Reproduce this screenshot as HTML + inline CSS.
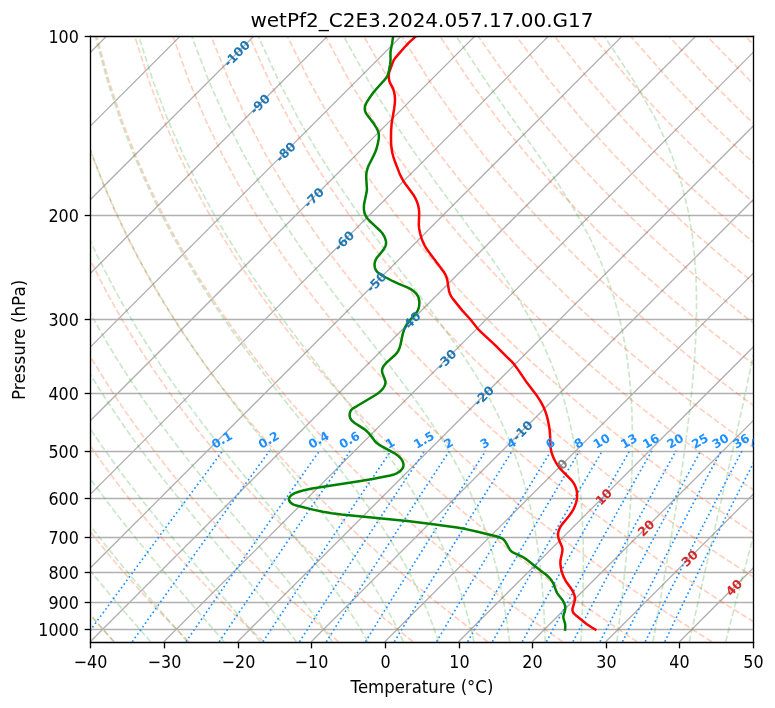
<!DOCTYPE html>
<html><head><meta charset="utf-8"><title>Skew-T</title><style>html,body{margin:0;padding:0;background:#fff;overflow:hidden}svg{display:block;will-change:transform;}</style></head><body>
<svg width="775" height="708" viewBox="0 0 465 424.8" version="1.1">
 
 <defs>
  <style type="text/css">*{stroke-linejoin: round; stroke-linecap: butt}</style>
 </defs>
 <g id="figure_1">
  <g id="patch_1">
   <path d="M 0 424.8 
L 465 424.8 
L 465 0 
L 0 0 
z
" style="fill: #ffffff"/>
  </g>
  <g id="axes_1">
   <g id="patch_2">
    <path d="M 54.3 385.5 
L 452.1 385.5 
L 452.1 21.9 
L 54.3 21.9 
z
" style="fill: #ffffff"/>
   </g>
   <g id="LineCollection_1">
    <path d="M 54.3 129.3 
L 452.1 129.3 
" clip-path="url(#p07b7da3071)" style="fill: none; stroke: #b0b0b0; stroke-width: 0.8"/>
    <path d="M 54.3 191.7 
L 452.1 191.7 
" clip-path="url(#p07b7da3071)" style="fill: none; stroke: #b0b0b0; stroke-width: 0.8"/>
    <path d="M 54.3 236.1 
L 452.1 236.1 
" clip-path="url(#p07b7da3071)" style="fill: none; stroke: #b0b0b0; stroke-width: 0.8"/>
    <path d="M 54.3 270.9 
L 452.1 270.9 
" clip-path="url(#p07b7da3071)" style="fill: none; stroke: #b0b0b0; stroke-width: 0.8"/>
    <path d="M 54.3 299.1 
L 452.1 299.1 
" clip-path="url(#p07b7da3071)" style="fill: none; stroke: #b0b0b0; stroke-width: 0.8"/>
    <path d="M 54.3 322.5 
L 452.1 322.5 
" clip-path="url(#p07b7da3071)" style="fill: none; stroke: #b0b0b0; stroke-width: 0.8"/>
    <path d="M 54.3 343.5 
L 452.1 343.5 
" clip-path="url(#p07b7da3071)" style="fill: none; stroke: #b0b0b0; stroke-width: 0.8"/>
    <path d="M 54.3 361.5 
L 452.1 361.5 
" clip-path="url(#p07b7da3071)" style="fill: none; stroke: #b0b0b0; stroke-width: 0.8"/>
    <path d="M 54.3 377.7 
L 452.1 377.7 
" clip-path="url(#p07b7da3071)" style="fill: none; stroke: #b0b0b0; stroke-width: 0.8"/>
   </g>
   <g id="LineCollection_2">
    <path clip-path="url(#p07b7da3071)" style="fill: none; stroke: #b0b0b0; stroke-width: 0.8"/>
    <path clip-path="url(#p07b7da3071)" style="fill: none; stroke: #b0b0b0; stroke-width: 0.8"/>
    <path clip-path="url(#p07b7da3071)" style="fill: none; stroke: #b0b0b0; stroke-width: 0.8"/>
    <path clip-path="url(#p07b7da3071)" style="fill: none; stroke: #b0b0b0; stroke-width: 0.8"/>
    <path clip-path="url(#p07b7da3071)" style="fill: none; stroke: #b0b0b0; stroke-width: 0.8"/>
    <path clip-path="url(#p07b7da3071)" style="fill: none; stroke: #b0b0b0; stroke-width: 0.8"/>
    <path clip-path="url(#p07b7da3071)" style="fill: none; stroke: #b0b0b0; stroke-width: 0.8"/>
    <path d="M -1 42.44 
L 19.63 21.80 
" clip-path="url(#p07b7da3071)" style="fill: none; stroke: #b0b0b0; stroke-width: 0.8"/>
    <path d="M -1 86.63 
L 63.83 21.80 
" clip-path="url(#p07b7da3071)" style="fill: none; stroke: #b0b0b0; stroke-width: 0.8"/>
    <path d="M -1 130.83 
L 108.02 21.80 
" clip-path="url(#p07b7da3071)" style="fill: none; stroke: #b0b0b0; stroke-width: 0.8"/>
    <path d="M -1 175.02 
L 152.21 21.80 
" clip-path="url(#p07b7da3071)" style="fill: none; stroke: #b0b0b0; stroke-width: 0.8"/>
    <path d="M -1 219.21 
L 196.41 21.80 
" clip-path="url(#p07b7da3071)" style="fill: none; stroke: #b0b0b0; stroke-width: 0.8"/>
    <path d="M -1 263.41 
L 240.60 21.80 
" clip-path="url(#p07b7da3071)" style="fill: none; stroke: #b0b0b0; stroke-width: 0.8"/>
    <path d="M -1 307.60 
L 284.79 21.80 
" clip-path="url(#p07b7da3071)" style="fill: none; stroke: #b0b0b0; stroke-width: 0.8"/>
    <path d="M -1 351.79 
L 328.99 21.80 
" clip-path="url(#p07b7da3071)" style="fill: none; stroke: #b0b0b0; stroke-width: 0.8"/>
    <path d="M 9.95 385.04 
L 373.18 21.80 
" clip-path="url(#p07b7da3071)" style="fill: none; stroke: #b0b0b0; stroke-width: 0.8"/>
    <path d="M 54.14 385.04 
L 417.37 21.80 
" clip-path="url(#p07b7da3071)" style="fill: none; stroke: #b0b0b0; stroke-width: 0.8"/>
    <path d="M 98.33 385.04 
L 461.57 21.80 
" clip-path="url(#p07b7da3071)" style="fill: none; stroke: #b0b0b0; stroke-width: 0.8"/>
    <path d="M 142.53 385.04 
L 466 61.57 
" clip-path="url(#p07b7da3071)" style="fill: none; stroke: #b0b0b0; stroke-width: 0.8"/>
    <path d="M 186.72 385.04 
L 466 105.76 
" clip-path="url(#p07b7da3071)" style="fill: none; stroke: #b0b0b0; stroke-width: 0.8"/>
    <path d="M 230.91 385.04 
L 466 149.95 
" clip-path="url(#p07b7da3071)" style="fill: none; stroke: #b0b0b0; stroke-width: 0.8"/>
    <path d="M 275.11 385.04 
L 466 194.15 
" clip-path="url(#p07b7da3071)" style="fill: none; stroke: #b0b0b0; stroke-width: 0.8"/>
    <path d="M 319.30 385.04 
L 466 238.34 
" clip-path="url(#p07b7da3071)" style="fill: none; stroke: #b0b0b0; stroke-width: 0.8"/>
    <path d="M 363.49 385.04 
L 466 282.53 
" clip-path="url(#p07b7da3071)" style="fill: none; stroke: #b0b0b0; stroke-width: 0.8"/>
    <path d="M 407.69 385.04 
L 466 326.73 
" clip-path="url(#p07b7da3071)" style="fill: none; stroke: #b0b0b0; stroke-width: 0.8"/>
    <path d="M 451.88 385.04 
L 466 370.92 
" clip-path="url(#p07b7da3071)" style="fill: none; stroke: #b0b0b0; stroke-width: 0.8"/>
   </g>
   <g id="LineCollection_3">
    <path d="M 68.60 385.04 
L 65.93 382.16 
L 63.24 379.22 
L 60.53 376.23 
L 57.80 373.18 
L 55.05 370.07 
L 52.27 366.90 
L 49.47 363.66 
L 46.65 360.34 
L 43.81 356.96 
L 40.94 353.50 
L 38.05 349.96 
L 35.14 346.34 
L 32.19 342.63 
L 29.23 338.83 
L 26.24 334.94 
L 23.22 330.94 
L 20.18 326.84 
L 17.11 322.62 
L 14.01 318.29 
L 10.89 313.83 
L 7.73 309.24 
L 4.55 304.51 
L 1.34 299.63 
L -1 295.98 
" clip-path="url(#p07b7da3071)" style="fill: none; stroke-dasharray: 3.7,1.6; stroke-dashoffset: 0; stroke: #ff4500; stroke-opacity: 0.25"/>
    <path d="M 113.42 385.04 
L 110.51 382.16 
L 107.58 379.22 
L 104.62 376.23 
L 101.64 373.18 
L 98.64 370.07 
L 95.61 366.90 
L 92.55 363.66 
L 89.47 360.34 
L 86.35 356.96 
L 83.22 353.50 
L 80.05 349.96 
L 76.85 346.34 
L 73.63 342.63 
L 70.37 338.83 
L 67.09 334.94 
L 63.77 330.94 
L 60.42 326.84 
L 57.04 322.62 
L 53.62 318.29 
L 50.17 313.83 
L 46.69 309.24 
L 43.17 304.51 
L 39.61 299.63 
L 36.02 294.60 
L 32.39 289.39 
L 28.72 284.00 
L 25.02 278.41 
L 21.27 272.61 
L 17.49 266.59 
L 13.67 260.33 
L 9.82 253.80 
L 5.92 246.98 
L 1.99 239.84 
L -1 234.19 
" clip-path="url(#p07b7da3071)" style="fill: none; stroke-dasharray: 3.7,1.6; stroke-dashoffset: 0; stroke: #ff4500; stroke-opacity: 0.25"/>
    <path d="M 158.23 385.04 
L 155.08 382.16 
L 151.91 379.22 
L 148.71 376.23 
L 145.48 373.18 
L 142.23 370.07 
L 138.94 366.90 
L 135.63 363.66 
L 132.28 360.34 
L 128.90 356.96 
L 125.49 353.50 
L 122.05 349.96 
L 118.57 346.34 
L 115.06 342.63 
L 111.52 338.83 
L 107.93 334.94 
L 104.32 330.94 
L 100.66 326.84 
L 96.96 322.62 
L 93.23 318.29 
L 89.45 313.83 
L 85.64 309.24 
L 81.78 304.51 
L 77.88 299.63 
L 73.93 294.60 
L 69.93 289.39 
L 65.90 284.00 
L 61.81 278.41 
L 57.67 272.61 
L 53.49 266.59 
L 49.26 260.33 
L 44.97 253.80 
L 40.64 246.98 
L 36.25 239.84 
L 31.82 232.36 
L 27.33 224.50 
L 22.80 216.22 
L 18.22 207.47 
L 13.60 198.20 
L 8.95 188.33 
L 4.26 177.78 
L -0.43 166.47 
L -1 164.99 
" clip-path="url(#p07b7da3071)" style="fill: none; stroke-dasharray: 3.7,1.6; stroke-dashoffset: 0; stroke: #ff4500; stroke-opacity: 0.25"/>
    <path d="M 203.04 385.04 
L 199.66 382.16 
L 196.25 379.22 
L 192.80 376.23 
L 189.33 373.18 
L 185.82 370.07 
L 182.28 366.90 
L 178.70 363.66 
L 175.09 360.34 
L 171.45 356.96 
L 167.77 353.50 
L 164.05 349.96 
L 160.29 346.34 
L 156.50 342.63 
L 152.66 338.83 
L 148.78 334.94 
L 144.86 330.94 
L 140.90 326.84 
L 136.89 322.62 
L 132.84 318.29 
L 128.74 313.83 
L 124.59 309.24 
L 120.39 304.51 
L 116.14 299.63 
L 111.84 294.60 
L 107.48 289.39 
L 103.07 284.00 
L 98.60 278.41 
L 94.07 272.61 
L 89.49 266.59 
L 84.84 260.33 
L 80.13 253.80 
L 75.35 246.98 
L 70.51 239.84 
L 65.60 232.36 
L 60.63 224.50 
L 55.59 216.22 
L 50.49 207.47 
L 45.32 198.20 
L 40.09 188.33 
L 34.81 177.78 
L 29.48 166.47 
L 24.11 154.26 
L 18.72 141.00 
L 13.35 126.49 
L 8.03 110.48 
L 2.83 92.62 
L -1 77.06 
" clip-path="url(#p07b7da3071)" style="fill: none; stroke-dasharray: 3.7,1.6; stroke-dashoffset: 0; stroke: #ff4500; stroke-opacity: 0.25"/>
    <path d="M 247.86 385.04 
L 244.24 382.16 
L 240.58 379.22 
L 236.89 376.23 
L 233.17 373.18 
L 229.41 370.07 
L 225.61 366.90 
L 221.78 363.66 
L 217.91 360.34 
L 213.99 356.96 
L 210.04 353.50 
L 206.05 349.96 
L 202.01 346.34 
L 197.93 342.63 
L 193.80 338.83 
L 189.63 334.94 
L 185.41 330.94 
L 181.14 326.84 
L 176.82 322.62 
L 172.45 318.29 
L 168.02 313.83 
L 163.54 309.24 
L 159.00 304.51 
L 154.41 299.63 
L 149.75 294.60 
L 145.03 289.39 
L 140.25 284.00 
L 135.39 278.41 
L 130.47 272.61 
L 125.48 266.59 
L 120.42 260.33 
L 115.28 253.80 
L 110.07 246.98 
L 104.77 239.84 
L 99.39 232.36 
L 93.93 224.50 
L 88.39 216.22 
L 82.76 207.47 
L 77.04 198.20 
L 71.24 188.33 
L 65.35 177.78 
L 59.39 166.47 
L 53.35 154.26 
L 47.26 141.00 
L 41.13 126.49 
L 35.00 110.48 
L 28.92 92.62 
L 22.99 72.42 
L 17.34 49.17 
L 12.24 21.80 
" clip-path="url(#p07b7da3071)" style="fill: none; stroke-dasharray: 3.7,1.6; stroke-dashoffset: 0; stroke: #ff4500; stroke-opacity: 0.25"/>
    <path d="M 292.67 385.04 
L 288.81 382.16 
L 284.92 379.22 
L 280.98 376.23 
L 277.01 373.18 
L 273.00 370.07 
L 268.95 366.90 
L 264.85 363.66 
L 260.72 360.34 
L 256.54 356.96 
L 252.32 353.50 
L 248.05 349.96 
L 243.73 346.34 
L 239.36 342.63 
L 234.95 338.83 
L 230.48 334.94 
L 225.96 330.94 
L 221.38 326.84 
L 216.75 322.62 
L 212.06 318.29 
L 207.31 313.83 
L 202.49 309.24 
L 197.62 304.51 
L 192.67 299.63 
L 187.66 294.60 
L 182.58 289.39 
L 177.42 284.00 
L 172.19 278.41 
L 166.88 272.61 
L 161.48 266.59 
L 156.00 260.33 
L 150.44 253.80 
L 144.78 246.98 
L 139.03 239.84 
L 133.18 232.36 
L 127.24 224.50 
L 121.18 216.22 
L 115.03 207.47 
L 108.76 198.20 
L 102.38 188.33 
L 95.90 177.78 
L 89.30 166.47 
L 82.60 154.26 
L 75.80 141.00 
L 68.91 126.49 
L 61.97 110.48 
L 55.02 92.62 
L 48.12 72.42 
L 41.42 49.17 
L 35.13 21.80 
" clip-path="url(#p07b7da3071)" style="fill: none; stroke-dasharray: 3.7,1.6; stroke-dashoffset: 0; stroke: #ff4500; stroke-opacity: 0.25"/>
    <path d="M 337.49 385.04 
L 333.39 382.16 
L 329.25 379.22 
L 325.07 376.23 
L 320.85 373.18 
L 316.59 370.07 
L 312.28 366.90 
L 307.93 363.66 
L 303.53 360.34 
L 299.09 356.96 
L 294.59 353.50 
L 290.04 349.96 
L 285.45 346.34 
L 280.80 342.63 
L 276.09 338.83 
L 271.33 334.94 
L 266.50 330.94 
L 261.62 326.84 
L 256.68 322.62 
L 251.67 318.29 
L 246.59 313.83 
L 241.45 309.24 
L 236.23 304.51 
L 230.94 299.63 
L 225.57 294.60 
L 220.12 289.39 
L 214.60 284.00 
L 208.98 278.41 
L 203.28 272.61 
L 197.48 266.59 
L 191.59 260.33 
L 185.59 253.80 
L 179.50 246.98 
L 173.29 239.84 
L 166.97 232.36 
L 160.54 224.50 
L 153.98 216.22 
L 147.30 207.47 
L 140.48 198.20 
L 133.53 188.33 
L 126.44 177.78 
L 119.21 166.47 
L 111.84 154.26 
L 104.33 141.00 
L 96.69 126.49 
L 88.94 110.48 
L 81.11 92.62 
L 73.26 72.42 
L 65.50 49.17 
L 58.02 21.80 
" clip-path="url(#p07b7da3071)" style="fill: none; stroke-dasharray: 3.7,1.6; stroke-dashoffset: 0; stroke: #ff4500; stroke-opacity: 0.25"/>
    <path d="M 382.30 385.04 
L 377.96 382.16 
L 373.58 379.22 
L 369.16 376.23 
L 364.69 373.18 
L 360.18 370.07 
L 355.62 366.90 
L 351.01 363.66 
L 346.34 360.34 
L 341.63 356.96 
L 336.87 353.50 
L 332.04 349.96 
L 327.17 346.34 
L 322.23 342.63 
L 317.23 338.83 
L 312.17 334.94 
L 307.05 330.94 
L 301.86 326.84 
L 296.61 322.62 
L 291.28 318.29 
L 285.88 313.83 
L 280.40 309.24 
L 274.84 304.51 
L 269.20 299.63 
L 263.48 294.60 
L 257.67 289.39 
L 251.77 284.00 
L 245.77 278.41 
L 239.68 272.61 
L 233.48 266.59 
L 227.17 260.33 
L 220.75 253.80 
L 214.21 246.98 
L 207.55 239.84 
L 200.76 232.36 
L 193.84 224.50 
L 186.77 216.22 
L 179.56 207.47 
L 172.20 198.20 
L 164.68 188.33 
L 156.99 177.78 
L 149.12 166.47 
L 141.08 154.26 
L 132.87 141.00 
L 124.47 126.49 
L 115.91 110.48 
L 107.20 92.62 
L 98.40 72.42 
L 89.57 49.17 
L 80.91 21.80 
" clip-path="url(#p07b7da3071)" style="fill: none; stroke-dasharray: 3.7,1.6; stroke-dashoffset: 0; stroke: #ff4500; stroke-opacity: 0.25"/>
    <path d="M 427.11 385.04 
L 422.54 382.16 
L 417.92 379.22 
L 413.25 376.23 
L 408.54 373.18 
L 403.77 370.07 
L 398.95 366.90 
L 394.08 363.66 
L 389.16 360.34 
L 384.18 356.96 
L 379.14 353.50 
L 374.04 349.96 
L 368.88 346.34 
L 363.66 342.63 
L 358.38 338.83 
L 353.02 334.94 
L 347.60 330.94 
L 342.10 326.84 
L 336.53 322.62 
L 330.89 318.29 
L 325.16 313.83 
L 319.35 309.24 
L 313.46 304.51 
L 307.47 299.63 
L 301.39 294.60 
L 295.22 289.39 
L 288.95 284.00 
L 282.57 278.41 
L 276.08 272.61 
L 269.47 266.59 
L 262.75 260.33 
L 255.90 253.80 
L 248.93 246.98 
L 241.81 239.84 
L 234.55 232.36 
L 227.14 224.50 
L 219.57 216.22 
L 211.83 207.47 
L 203.92 198.20 
L 195.82 188.33 
L 187.53 177.78 
L 179.04 166.47 
L 170.33 154.26 
L 161.40 141.00 
L 152.25 126.49 
L 142.88 110.48 
L 133.30 92.62 
L 123.53 72.42 
L 113.65 49.17 
L 103.80 21.80 
" clip-path="url(#p07b7da3071)" style="fill: none; stroke-dasharray: 3.7,1.6; stroke-dashoffset: 0; stroke: #ff4500; stroke-opacity: 0.25"/>
    <path d="M 466 381.48 
L 462.25 379.22 
L 457.34 376.23 
L 452.38 373.18 
L 447.36 370.07 
L 442.29 366.90 
L 437.16 363.66 
L 431.97 360.34 
L 426.72 356.96 
L 421.41 353.50 
L 416.04 349.96 
L 410.60 346.34 
L 405.10 342.63 
L 399.52 338.83 
L 393.87 334.94 
L 388.15 330.94 
L 382.34 326.84 
L 376.46 322.62 
L 370.50 318.29 
L 364.44 313.83 
L 358.30 309.24 
L 352.07 304.51 
L 345.74 299.63 
L 339.30 294.60 
L 332.77 289.39 
L 326.12 284.00 
L 319.36 278.41 
L 312.48 272.61 
L 305.47 266.59 
L 298.33 260.33 
L 291.06 253.80 
L 283.64 246.98 
L 276.07 239.84 
L 268.34 232.36 
L 260.44 224.50 
L 252.37 216.22 
L 244.10 207.47 
L 235.64 198.20 
L 226.97 188.33 
L 218.08 177.78 
L 208.95 166.47 
L 199.57 154.26 
L 189.94 141.00 
L 180.03 126.49 
L 169.85 110.48 
L 159.39 92.62 
L 148.67 72.42 
L 137.73 49.17 
L 126.69 21.80 
" clip-path="url(#p07b7da3071)" style="fill: none; stroke-dasharray: 3.7,1.6; stroke-dashoffset: 0; stroke: #ff4500; stroke-opacity: 0.25"/>
    <path d="M 466 354.93 
L 463.69 353.50 
L 458.04 349.96 
L 452.32 346.34 
L 446.53 342.63 
L 440.66 338.83 
L 434.72 334.94 
L 428.69 330.94 
L 422.58 326.84 
L 416.39 322.62 
L 410.11 318.29 
L 403.73 313.83 
L 397.26 309.24 
L 390.68 304.51 
L 384.00 299.63 
L 377.22 294.60 
L 370.31 289.39 
L 363.30 284.00 
L 356.15 278.41 
L 348.88 272.61 
L 341.47 266.59 
L 333.92 260.33 
L 326.22 253.80 
L 318.36 246.98 
L 310.33 239.84 
L 302.13 232.36 
L 293.74 224.50 
L 285.16 216.22 
L 276.37 207.47 
L 267.36 198.20 
L 258.11 188.33 
L 248.62 177.78 
L 238.86 166.47 
L 228.82 154.26 
L 218.47 141.00 
L 207.81 126.49 
L 196.82 110.48 
L 185.48 92.62 
L 173.81 72.42 
L 161.81 49.17 
L 149.58 21.80 
" clip-path="url(#p07b7da3071)" style="fill: none; stroke-dasharray: 3.7,1.6; stroke-dashoffset: 0; stroke: #ff4500; stroke-opacity: 0.25"/>
    <path d="M 466 328.87 
L 462.83 326.84 
L 456.32 322.62 
L 449.72 318.29 
L 443.01 313.83 
L 436.21 309.24 
L 429.29 304.51 
L 422.27 299.63 
L 415.13 294.60 
L 407.86 289.39 
L 400.47 284.00 
L 392.94 278.41 
L 385.28 272.61 
L 377.47 266.59 
L 369.50 260.33 
L 361.37 253.80 
L 353.07 246.98 
L 344.59 239.84 
L 335.92 232.36 
L 327.04 224.50 
L 317.96 216.22 
L 308.64 207.47 
L 299.08 198.20 
L 289.26 188.33 
L 279.16 177.78 
L 268.77 166.47 
L 258.06 154.26 
L 247.01 141.00 
L 235.59 126.49 
L 223.79 110.48 
L 211.58 92.62 
L 198.94 72.42 
L 185.89 49.17 
L 172.47 21.80 
" clip-path="url(#p07b7da3071)" style="fill: none; stroke-dasharray: 3.7,1.6; stroke-dashoffset: 0; stroke: #ff4500; stroke-opacity: 0.25"/>
    <path d="M 466 303.25 
L 460.53 299.63 
L 453.04 294.60 
L 445.41 289.39 
L 437.64 284.00 
L 429.74 278.41 
L 421.68 272.61 
L 413.46 266.59 
L 405.08 260.33 
L 396.53 253.80 
L 387.79 246.98 
L 378.85 239.84 
L 369.71 232.36 
L 360.35 224.50 
L 350.75 216.22 
L 340.91 207.47 
L 330.80 198.20 
L 320.41 188.33 
L 309.71 177.78 
L 298.68 166.47 
L 287.31 154.26 
L 275.55 141.00 
L 263.38 126.49 
L 250.76 110.48 
L 237.67 92.62 
L 224.08 72.42 
L 209.97 49.17 
L 195.36 21.80 
" clip-path="url(#p07b7da3071)" style="fill: none; stroke-dasharray: 3.7,1.6; stroke-dashoffset: 0; stroke: #ff4500; stroke-opacity: 0.25"/>
    <path d="M 466 278.04 
L 458.08 272.61 
L 449.46 266.59 
L 440.67 260.33 
L 431.68 253.80 
L 422.50 246.98 
L 413.11 239.84 
L 403.50 232.36 
L 393.65 224.50 
L 383.55 216.22 
L 373.18 207.47 
L 362.52 198.20 
L 351.55 188.33 
L 340.25 177.78 
L 328.60 166.47 
L 316.55 154.26 
L 304.08 141.00 
L 291.16 126.49 
L 277.73 110.48 
L 263.76 92.62 
L 249.21 72.42 
L 234.05 49.17 
L 218.25 21.80 
" clip-path="url(#p07b7da3071)" style="fill: none; stroke-dasharray: 3.7,1.6; stroke-dashoffset: 0; stroke: #ff4500; stroke-opacity: 0.25"/>
    <path d="M 466 253.20 
L 457.22 246.98 
L 447.37 239.84 
L 437.29 232.36 
L 426.95 224.50 
L 416.34 216.22 
L 405.45 207.47 
L 394.24 198.20 
L 382.70 188.33 
L 370.80 177.78 
L 358.51 166.47 
L 345.79 154.26 
L 332.62 141.00 
L 318.94 126.49 
L 304.70 110.48 
L 289.86 92.62 
L 274.35 72.42 
L 258.12 49.17 
L 241.14 21.80 
" clip-path="url(#p07b7da3071)" style="fill: none; stroke-dasharray: 3.7,1.6; stroke-dashoffset: 0; stroke: #ff4500; stroke-opacity: 0.25"/>
    <path d="M 466 228.67 
L 460.25 224.50 
L 449.14 216.22 
L 437.71 207.47 
L 425.96 198.20 
L 413.85 188.33 
L 401.34 177.78 
L 388.42 166.47 
L 375.04 154.26 
L 361.15 141.00 
L 346.72 126.49 
L 331.67 110.48 
L 315.95 92.62 
L 299.49 72.42 
L 282.20 49.17 
L 264.03 21.80 
" clip-path="url(#p07b7da3071)" style="fill: none; stroke-dasharray: 3.7,1.6; stroke-dashoffset: 0; stroke: #ff4500; stroke-opacity: 0.25"/>
    <path d="M 466 204.46 
L 457.68 198.20 
L 444.99 188.33 
L 431.89 177.78 
L 418.33 166.47 
L 404.28 154.26 
L 389.69 141.00 
L 374.50 126.49 
L 358.64 110.48 
L 342.04 92.62 
L 324.62 72.42 
L 306.28 49.17 
L 286.92 21.80 
" clip-path="url(#p07b7da3071)" style="fill: none; stroke-dasharray: 3.7,1.6; stroke-dashoffset: 0; stroke: #ff4500; stroke-opacity: 0.25"/>
    <path d="M 466 180.52 
L 462.43 177.78 
L 448.24 166.47 
L 433.53 154.26 
L 418.22 141.00 
L 402.28 126.49 
L 385.61 110.48 
L 368.14 92.62 
L 349.76 72.42 
L 330.36 49.17 
L 309.81 21.80 
" clip-path="url(#p07b7da3071)" style="fill: none; stroke-dasharray: 3.7,1.6; stroke-dashoffset: 0; stroke: #ff4500; stroke-opacity: 0.25"/>
    <path d="M 466 156.82 
L 462.77 154.26 
L 446.76 141.00 
L 430.06 126.49 
L 412.58 110.48 
L 394.23 92.62 
L 374.90 72.42 
L 354.44 49.17 
L 332.70 21.80 
" clip-path="url(#p07b7da3071)" style="fill: none; stroke-dasharray: 3.7,1.6; stroke-dashoffset: 0; stroke: #ff4500; stroke-opacity: 0.25"/>
    <path d="M 466 133.27 
L 457.84 126.49 
L 439.55 110.48 
L 420.32 92.62 
L 400.03 72.42 
L 378.52 49.17 
L 355.59 21.80 
" clip-path="url(#p07b7da3071)" style="fill: none; stroke-dasharray: 3.7,1.6; stroke-dashoffset: 0; stroke: #ff4500; stroke-opacity: 0.25"/>
    <path d="M 466 110.02 
L 446.42 92.62 
L 425.17 72.42 
L 402.60 49.17 
L 378.48 21.80 
" clip-path="url(#p07b7da3071)" style="fill: none; stroke-dasharray: 3.7,1.6; stroke-dashoffset: 0; stroke: #ff4500; stroke-opacity: 0.25"/>
    <path d="M 466 86.69 
L 450.31 72.42 
L 426.67 49.17 
L 401.37 21.80 
" clip-path="url(#p07b7da3071)" style="fill: none; stroke-dasharray: 3.7,1.6; stroke-dashoffset: 0; stroke: #ff4500; stroke-opacity: 0.25"/>
    <path d="M 466 63.53 
L 450.75 49.17 
L 424.26 21.80 
" clip-path="url(#p07b7da3071)" style="fill: none; stroke-dasharray: 3.7,1.6; stroke-dashoffset: 0; stroke: #ff4500; stroke-opacity: 0.25"/>
    <path d="M 466 40.44 
L 447.15 21.80 
" clip-path="url(#p07b7da3071)" style="fill: none; stroke-dasharray: 3.7,1.6; stroke-dashoffset: 0; stroke: #ff4500; stroke-opacity: 0.25"/>
    <path clip-path="url(#p07b7da3071)" style="fill: none; stroke-dasharray: 3.7,1.6; stroke-dashoffset: 0; stroke: #ff4500; stroke-opacity: 0.25"/>
    <path clip-path="url(#p07b7da3071)" style="fill: none; stroke-dasharray: 3.7,1.6; stroke-dashoffset: 0; stroke: #ff4500; stroke-opacity: 0.25"/>
    <path clip-path="url(#p07b7da3071)" style="fill: none; stroke-dasharray: 3.7,1.6; stroke-dashoffset: 0; stroke: #ff4500; stroke-opacity: 0.25"/>
    <path clip-path="url(#p07b7da3071)" style="fill: none; stroke-dasharray: 3.7,1.6; stroke-dashoffset: 0; stroke: #ff4500; stroke-opacity: 0.25"/>
    <path clip-path="url(#p07b7da3071)" style="fill: none; stroke-dasharray: 3.7,1.6; stroke-dashoffset: 0; stroke: #ff4500; stroke-opacity: 0.25"/>
    <path clip-path="url(#p07b7da3071)" style="fill: none; stroke-dasharray: 3.7,1.6; stroke-dashoffset: 0; stroke: #ff4500; stroke-opacity: 0.25"/>
   </g>
   <g id="LineCollection_4">
    <path d="M 68.21 385.04 
L 65.70 382.16 
L 63.16 379.22 
L 60.59 376.23 
L 57.98 373.18 
L 55.35 370.07 
L 52.67 366.90 
L 49.97 363.66 
L 47.24 360.34 
L 44.47 356.96 
L 41.67 353.50 
L 38.84 349.96 
L 35.97 346.34 
L 33.08 342.63 
L 30.15 338.83 
L 27.19 334.94 
L 24.20 330.94 
L 21.18 326.84 
L 18.13 322.62 
L 15.05 318.29 
L 11.93 313.83 
L 8.79 309.24 
L 5.61 304.51 
L 2.40 299.63 
L -0.83 294.60 
L -1 294.33 
" clip-path="url(#p07b7da3071)" style="fill: none; stroke-dasharray: 3.7,1.6; stroke-dashoffset: 0; stroke: #2ca02c; stroke-opacity: 0.25"/>
    <path d="M 90.38 385.04 
L 87.85 382.16 
L 85.28 379.22 
L 82.67 376.23 
L 80.02 373.18 
L 77.32 370.07 
L 74.59 366.90 
L 71.82 363.66 
L 69.00 360.34 
L 66.15 356.96 
L 63.26 353.50 
L 60.33 349.96 
L 57.36 346.34 
L 54.36 342.63 
L 51.31 338.83 
L 48.23 334.94 
L 45.11 330.94 
L 41.96 326.84 
L 38.76 322.62 
L 35.53 318.29 
L 32.26 313.83 
L 28.96 309.24 
L 25.62 304.51 
L 22.24 299.63 
L 18.83 294.60 
L 15.37 289.39 
L 11.89 284.00 
L 8.37 278.41 
L 4.81 272.61 
L 1.21 266.59 
L -1 262.76 
" clip-path="url(#p07b7da3071)" style="fill: none; stroke-dasharray: 3.7,1.6; stroke-dashoffset: 0; stroke: #2ca02c; stroke-opacity: 0.25"/>
    <path d="M 112.46 385.04 
L 109.94 382.16 
L 107.38 379.22 
L 104.76 376.23 
L 102.10 373.18 
L 99.39 370.07 
L 96.62 366.90 
L 93.81 363.66 
L 90.95 360.34 
L 88.04 356.96 
L 85.09 353.50 
L 82.08 349.96 
L 79.03 346.34 
L 75.94 342.63 
L 72.79 338.83 
L 69.60 334.94 
L 66.37 330.94 
L 63.09 326.84 
L 59.76 322.62 
L 56.39 318.29 
L 52.98 313.83 
L 49.52 309.24 
L 46.02 304.51 
L 42.47 299.63 
L 38.89 294.60 
L 35.25 289.39 
L 31.58 284.00 
L 27.86 278.41 
L 24.10 272.61 
L 20.30 266.59 
L 16.46 260.33 
L 12.57 253.80 
L 8.65 246.98 
L 4.69 239.84 
L 0.69 232.36 
L -1 229.06 
" clip-path="url(#p07b7da3071)" style="fill: none; stroke-dasharray: 3.7,1.6; stroke-dashoffset: 0; stroke: #2ca02c; stroke-opacity: 0.25"/>
    <path d="M 134.40 385.04 
L 131.95 382.16 
L 129.45 379.22 
L 126.88 376.23 
L 124.25 373.18 
L 121.56 370.07 
L 118.82 366.90 
L 116.01 363.66 
L 113.14 360.34 
L 110.22 356.96 
L 107.23 353.50 
L 104.19 349.96 
L 101.09 346.34 
L 97.93 342.63 
L 94.71 338.83 
L 91.44 334.94 
L 88.11 330.94 
L 84.73 326.84 
L 81.29 322.62 
L 77.79 318.29 
L 74.25 313.83 
L 70.65 309.24 
L 66.99 304.51 
L 63.29 299.63 
L 59.53 294.60 
L 55.72 289.39 
L 51.86 284.00 
L 47.95 278.41 
L 43.99 272.61 
L 39.97 266.59 
L 35.91 260.33 
L 31.80 253.80 
L 27.64 246.98 
L 23.43 239.84 
L 19.18 232.36 
L 14.88 224.50 
L 10.54 216.22 
L 6.16 207.47 
L 1.75 198.20 
L -1 192.08 
" clip-path="url(#p07b7da3071)" style="fill: none; stroke-dasharray: 3.7,1.6; stroke-dashoffset: 0; stroke: #2ca02c; stroke-opacity: 0.25"/>
    <path d="M 156.20 385.04 
L 153.87 382.16 
L 151.48 379.22 
L 149.02 376.23 
L 146.48 373.18 
L 143.88 370.07 
L 141.21 366.90 
L 138.46 363.66 
L 135.64 360.34 
L 132.75 356.96 
L 129.79 353.50 
L 126.76 349.96 
L 123.66 346.34 
L 120.48 342.63 
L 117.23 338.83 
L 113.91 334.94 
L 110.53 330.94 
L 107.07 326.84 
L 103.55 322.62 
L 99.95 318.29 
L 96.30 313.83 
L 92.57 309.24 
L 88.78 304.51 
L 84.93 299.63 
L 81.01 294.60 
L 77.03 289.39 
L 72.99 284.00 
L 68.89 278.41 
L 64.72 272.61 
L 60.50 266.59 
L 56.21 260.33 
L 51.87 253.80 
L 47.46 246.98 
L 43.00 239.84 
L 38.48 232.36 
L 33.91 224.50 
L 29.28 216.22 
L 24.60 207.47 
L 19.88 198.20 
L 15.11 188.33 
L 10.31 177.78 
L 5.49 166.47 
L 0.66 154.26 
L -1 149.68 
" clip-path="url(#p07b7da3071)" style="fill: none; stroke-dasharray: 3.7,1.6; stroke-dashoffset: 0; stroke: #2ca02c; stroke-opacity: 0.25"/>
    <path d="M 177.84 385.04 
L 175.70 382.16 
L 173.48 379.22 
L 171.18 376.23 
L 168.81 373.18 
L 166.36 370.07 
L 163.83 366.90 
L 161.22 363.66 
L 158.52 360.34 
L 155.73 356.96 
L 152.86 353.50 
L 149.91 349.96 
L 146.87 346.34 
L 143.74 342.63 
L 140.52 338.83 
L 137.21 334.94 
L 133.82 330.94 
L 130.35 326.84 
L 126.78 322.62 
L 123.13 318.29 
L 119.40 313.83 
L 115.59 309.24 
L 111.69 304.51 
L 107.71 299.63 
L 103.65 294.60 
L 99.52 289.39 
L 95.31 284.00 
L 91.02 278.41 
L 86.66 272.61 
L 82.22 266.59 
L 77.71 260.33 
L 73.13 253.80 
L 68.48 246.98 
L 63.75 239.84 
L 58.96 232.36 
L 54.10 224.50 
L 49.17 216.22 
L 44.18 207.47 
L 39.12 198.20 
L 34.01 188.33 
L 28.84 177.78 
L 23.63 166.47 
L 18.40 154.26 
L 13.15 141.00 
L 7.93 126.49 
L 2.77 110.48 
L -1 97.09 
" clip-path="url(#p07b7da3071)" style="fill: none; stroke-dasharray: 3.7,1.6; stroke-dashoffset: 0; stroke: #2ca02c; stroke-opacity: 0.25"/>
    <path d="M 199.32 385.04 
L 197.42 382.16 
L 195.44 379.22 
L 193.38 376.23 
L 191.24 373.18 
L 189.01 370.07 
L 186.70 366.90 
L 184.29 363.66 
L 181.80 360.34 
L 179.20 356.96 
L 176.51 353.50 
L 173.72 349.96 
L 170.83 346.34 
L 167.83 342.63 
L 164.73 338.83 
L 161.52 334.94 
L 158.21 330.94 
L 154.79 326.84 
L 151.26 322.62 
L 147.62 318.29 
L 143.88 313.83 
L 140.03 309.24 
L 136.08 304.51 
L 132.02 299.63 
L 127.87 294.60 
L 123.61 289.39 
L 119.25 284.00 
L 114.80 278.41 
L 110.26 272.61 
L 105.62 266.59 
L 100.89 260.33 
L 96.07 253.80 
L 91.16 246.98 
L 86.16 239.84 
L 81.08 232.36 
L 75.92 224.50 
L 70.67 216.22 
L 65.34 207.47 
L 59.93 198.20 
L 54.44 188.33 
L 48.88 177.78 
L 43.26 166.47 
L 37.59 154.26 
L 31.88 141.00 
L 26.16 126.49 
L 20.47 110.48 
L 14.86 92.62 
L 9.44 72.42 
L 4.36 49.17 
L -0.09 21.80 
" clip-path="url(#p07b7da3071)" style="fill: none; stroke-dasharray: 3.7,1.6; stroke-dashoffset: 0; stroke: #2ca02c; stroke-opacity: 0.25"/>
    <path d="M 220.67 385.04 
L 219.06 382.16 
L 217.37 379.22 
L 215.60 376.23 
L 213.75 373.18 
L 211.82 370.07 
L 209.80 366.90 
L 207.68 363.66 
L 205.47 360.34 
L 203.16 356.96 
L 200.74 353.50 
L 198.22 349.96 
L 195.58 346.34 
L 192.82 342.63 
L 189.95 338.83 
L 186.95 334.94 
L 183.82 330.94 
L 180.57 326.84 
L 177.19 322.62 
L 173.67 318.29 
L 170.02 313.83 
L 166.24 309.24 
L 162.32 304.51 
L 158.28 299.63 
L 154.09 294.60 
L 149.78 289.39 
L 145.34 284.00 
L 140.78 278.41 
L 136.09 272.61 
L 131.27 266.59 
L 126.34 260.33 
L 121.30 253.80 
L 116.14 246.98 
L 110.87 239.84 
L 105.49 232.36 
L 100.00 224.50 
L 94.41 216.22 
L 88.71 207.47 
L 82.92 198.20 
L 77.02 188.33 
L 71.04 177.78 
L 64.96 166.47 
L 58.81 154.26 
L 52.58 141.00 
L 46.32 126.49 
L 40.04 110.48 
L 33.79 92.62 
L 27.68 72.42 
L 21.83 49.17 
L 16.51 21.80 
" clip-path="url(#p07b7da3071)" style="fill: none; stroke-dasharray: 3.7,1.6; stroke-dashoffset: 0; stroke: #2ca02c; stroke-opacity: 0.25"/>
    <path d="M 241.94 385.04 
L 240.64 382.16 
L 239.27 379.22 
L 237.84 376.23 
L 236.33 373.18 
L 234.74 370.07 
L 233.07 366.90 
L 231.32 363.66 
L 229.47 360.34 
L 227.52 356.96 
L 225.47 353.50 
L 223.31 349.96 
L 221.04 346.34 
L 218.64 342.63 
L 216.12 338.83 
L 213.47 334.94 
L 210.67 330.94 
L 207.74 326.84 
L 204.65 322.62 
L 201.41 318.29 
L 198.01 313.83 
L 194.44 309.24 
L 190.71 304.51 
L 186.81 299.63 
L 182.75 294.60 
L 178.51 289.39 
L 174.10 284.00 
L 169.52 278.41 
L 164.78 272.61 
L 159.87 266.59 
L 154.80 260.33 
L 149.57 253.80 
L 144.19 246.98 
L 138.67 239.84 
L 132.99 232.36 
L 127.18 224.50 
L 121.23 216.22 
L 115.14 207.47 
L 108.93 198.20 
L 102.59 188.33 
L 96.12 177.78 
L 89.53 166.47 
L 82.83 154.26 
L 76.03 141.00 
L 69.15 126.49 
L 62.20 110.48 
L 55.24 92.62 
L 48.34 72.42 
L 41.62 49.17 
L 35.33 21.80 
" clip-path="url(#p07b7da3071)" style="fill: none; stroke-dasharray: 3.7,1.6; stroke-dashoffset: 0; stroke: #2ca02c; stroke-opacity: 0.25"/>
    <path d="M 263.16 385.04 
L 262.19 382.16 
L 261.17 379.22 
L 260.08 376.23 
L 258.94 373.18 
L 257.73 370.07 
L 256.45 366.90 
L 255.10 363.66 
L 253.66 360.34 
L 252.14 356.96 
L 250.53 353.50 
L 248.81 349.96 
L 247.00 346.34 
L 245.07 342.63 
L 243.02 338.83 
L 240.84 334.94 
L 238.52 330.94 
L 236.06 326.84 
L 233.44 322.62 
L 230.66 318.29 
L 227.70 313.83 
L 224.56 309.24 
L 221.24 304.51 
L 217.71 299.63 
L 213.97 294.60 
L 210.03 289.39 
L 205.86 284.00 
L 201.48 278.41 
L 196.87 272.61 
L 192.04 266.59 
L 186.98 260.33 
L 181.70 253.80 
L 176.21 246.98 
L 170.51 239.84 
L 164.60 232.36 
L 158.49 224.50 
L 152.20 216.22 
L 145.72 207.47 
L 139.05 198.20 
L 132.22 188.33 
L 125.22 177.78 
L 118.06 166.47 
L 110.74 154.26 
L 103.27 141.00 
L 95.67 126.49 
L 87.95 110.48 
L 80.15 92.62 
L 72.34 72.42 
L 64.61 49.17 
L 57.18 21.80 
" clip-path="url(#p07b7da3071)" style="fill: none; stroke-dasharray: 3.7,1.6; stroke-dashoffset: 0; stroke: #2ca02c; stroke-opacity: 0.25"/>
    <path d="M 284.40 385.04 
L 283.75 382.16 
L 283.06 379.22 
L 282.33 376.23 
L 281.55 373.18 
L 280.72 370.07 
L 279.84 366.90 
L 278.90 363.66 
L 277.90 360.34 
L 276.83 356.96 
L 275.68 353.50 
L 274.46 349.96 
L 273.15 346.34 
L 271.74 342.63 
L 270.24 338.83 
L 268.63 334.94 
L 266.89 330.94 
L 265.03 326.84 
L 263.03 322.62 
L 260.87 318.29 
L 258.56 313.83 
L 256.06 309.24 
L 253.37 304.51 
L 250.48 299.63 
L 247.37 294.60 
L 244.02 289.39 
L 240.42 284.00 
L 236.56 278.41 
L 232.42 272.61 
L 227.99 266.59 
L 223.27 260.33 
L 218.24 253.80 
L 212.91 246.98 
L 207.27 239.84 
L 201.32 232.36 
L 195.08 224.50 
L 188.56 216.22 
L 181.75 207.47 
L 174.68 198.20 
L 167.35 188.33 
L 159.78 177.78 
L 151.97 166.47 
L 143.95 154.26 
L 135.71 141.00 
L 127.26 126.49 
L 118.63 110.48 
L 109.84 92.62 
L 100.94 72.42 
L 92.01 49.17 
L 83.23 21.80 
" clip-path="url(#p07b7da3071)" style="fill: none; stroke-dasharray: 3.7,1.6; stroke-dashoffset: 0; stroke: #2ca02c; stroke-opacity: 0.25"/>
    <path d="M 305.69 385.04 
L 305.34 382.16 
L 304.97 379.22 
L 304.57 376.23 
L 304.13 373.18 
L 303.67 370.07 
L 303.16 366.90 
L 302.62 363.66 
L 302.03 360.34 
L 301.40 356.96 
L 300.71 353.50 
L 299.97 349.96 
L 299.17 346.34 
L 298.30 342.63 
L 297.35 338.83 
L 296.33 334.94 
L 295.22 330.94 
L 294.00 326.84 
L 292.69 322.62 
L 291.25 318.29 
L 289.68 313.83 
L 287.97 309.24 
L 286.10 304.51 
L 284.05 299.63 
L 281.81 294.60 
L 279.35 289.39 
L 276.65 284.00 
L 273.70 278.41 
L 270.46 272.61 
L 266.90 266.59 
L 263.01 260.33 
L 258.76 253.80 
L 254.11 246.98 
L 249.06 239.84 
L 243.58 232.36 
L 237.66 224.50 
L 231.30 216.22 
L 224.50 207.47 
L 217.26 198.20 
L 209.61 188.33 
L 201.56 177.78 
L 193.14 166.47 
L 184.37 154.26 
L 175.26 141.00 
L 165.83 126.49 
L 156.12 110.48 
L 146.13 92.62 
L 135.90 72.42 
L 125.51 49.17 
L 115.07 21.80 
" clip-path="url(#p07b7da3071)" style="fill: none; stroke-dasharray: 3.7,1.6; stroke-dashoffset: 0; stroke: #2ca02c; stroke-opacity: 0.25"/>
    <path d="M 327.06 385.04 
L 326.99 382.16 
L 326.90 379.22 
L 326.79 376.23 
L 326.67 373.18 
L 326.52 370.07 
L 326.36 366.90 
L 326.17 363.66 
L 325.96 360.34 
L 325.72 356.96 
L 325.45 353.50 
L 325.15 349.96 
L 324.81 346.34 
L 324.43 342.63 
L 324.01 338.83 
L 323.53 334.94 
L 323.00 330.94 
L 322.41 326.84 
L 321.75 322.62 
L 321.01 318.29 
L 320.19 313.83 
L 319.27 309.24 
L 318.24 304.51 
L 317.09 299.63 
L 315.81 294.60 
L 314.37 289.39 
L 312.75 284.00 
L 310.93 278.41 
L 308.89 272.61 
L 306.59 266.59 
L 303.99 260.33 
L 301.07 253.80 
L 297.77 246.98 
L 294.04 239.84 
L 289.85 232.36 
L 285.12 224.50 
L 279.82 216.22 
L 273.90 207.47 
L 267.32 198.20 
L 260.06 188.33 
L 252.11 177.78 
L 243.48 166.47 
L 234.21 154.26 
L 224.34 141.00 
L 213.91 126.49 
L 202.96 110.48 
L 191.55 92.62 
L 179.70 72.42 
L 167.48 49.17 
L 154.98 21.80 
" clip-path="url(#p07b7da3071)" style="fill: none; stroke-dasharray: 3.7,1.6; stroke-dashoffset: 0; stroke: #2ca02c; stroke-opacity: 0.25"/>
    <path d="M 348.54 385.04 
L 348.69 382.16 
L 348.85 379.22 
L 348.99 376.23 
L 349.14 373.18 
L 349.27 370.07 
L 349.40 366.90 
L 349.52 363.66 
L 349.63 360.34 
L 349.73 356.96 
L 349.82 353.50 
L 349.89 349.96 
L 349.94 346.34 
L 349.98 342.63 
L 350.00 338.83 
L 350.00 334.94 
L 349.97 330.94 
L 349.91 326.84 
L 349.82 322.62 
L 349.69 318.29 
L 349.51 313.83 
L 349.29 309.24 
L 349.01 304.51 
L 348.66 299.63 
L 348.25 294.60 
L 347.74 289.39 
L 347.14 284.00 
L 346.42 278.41 
L 345.56 272.61 
L 344.56 266.59 
L 343.36 260.33 
L 341.96 253.80 
L 340.30 246.98 
L 338.34 239.84 
L 336.03 232.36 
L 333.30 224.50 
L 330.07 216.22 
L 326.25 207.47 
L 321.73 198.20 
L 316.41 188.33 
L 310.15 177.78 
L 302.86 166.47 
L 294.45 154.26 
L 284.87 141.00 
L 274.14 126.49 
L 262.31 110.48 
L 249.50 92.62 
L 235.82 72.42 
L 221.36 49.17 
L 206.25 21.80 
" clip-path="url(#p07b7da3071)" style="fill: none; stroke-dasharray: 3.7,1.6; stroke-dashoffset: 0; stroke: #2ca02c; stroke-opacity: 0.25"/>
    <path d="M 370.11 385.04 
L 370.47 382.16 
L 370.82 379.22 
L 371.18 376.23 
L 371.54 373.18 
L 371.91 370.07 
L 372.28 366.90 
L 372.65 363.66 
L 373.02 360.34 
L 373.40 356.96 
L 373.78 353.50 
L 374.15 349.96 
L 374.53 346.34 
L 374.91 342.63 
L 375.29 338.83 
L 375.66 334.94 
L 376.04 330.94 
L 376.40 326.84 
L 376.77 322.62 
L 377.12 318.29 
L 377.46 313.83 
L 377.79 309.24 
L 378.11 304.51 
L 378.41 299.63 
L 378.68 294.60 
L 378.92 289.39 
L 379.13 284.00 
L 379.30 278.41 
L 379.42 272.61 
L 379.47 266.59 
L 379.45 260.33 
L 379.34 253.80 
L 379.11 246.98 
L 378.75 239.84 
L 378.21 232.36 
L 377.47 224.50 
L 376.46 216.22 
L 375.12 207.47 
L 373.36 198.20 
L 371.07 188.33 
L 368.11 177.78 
L 364.28 166.47 
L 359.35 154.26 
L 353.04 141.00 
L 345.01 126.49 
L 334.98 110.48 
L 322.74 92.62 
L 308.30 72.42 
L 291.85 49.17 
L 273.72 21.80 
" clip-path="url(#p07b7da3071)" style="fill: none; stroke-dasharray: 3.7,1.6; stroke-dashoffset: 0; stroke: #2ca02c; stroke-opacity: 0.25"/>
    <path d="M 391.79 385.04 
L 392.30 382.16 
L 392.82 379.22 
L 393.35 376.23 
L 393.89 373.18 
L 394.44 370.07 
L 395.00 366.90 
L 395.57 363.66 
L 396.15 360.34 
L 396.75 356.96 
L 397.35 353.50 
L 397.97 349.96 
L 398.60 346.34 
L 399.25 342.63 
L 399.90 338.83 
L 400.57 334.94 
L 401.25 330.94 
L 401.95 326.84 
L 402.66 322.62 
L 403.38 318.29 
L 404.11 313.83 
L 404.86 309.24 
L 405.63 304.51 
L 406.40 299.63 
L 407.19 294.60 
L 407.98 289.39 
L 408.79 284.00 
L 409.61 278.41 
L 410.43 272.61 
L 411.26 266.59 
L 412.08 260.33 
L 412.91 253.80 
L 413.72 246.98 
L 414.51 239.84 
L 415.27 232.36 
L 415.98 224.50 
L 416.63 216.22 
L 417.19 207.47 
L 417.63 198.20 
L 417.89 188.33 
L 417.91 177.78 
L 417.60 166.47 
L 416.80 154.26 
L 415.33 141.00 
L 412.87 126.49 
L 408.97 110.48 
L 402.96 92.62 
L 393.91 72.42 
L 380.73 49.17 
L 362.66 21.80 
" clip-path="url(#p07b7da3071)" style="fill: none; stroke-dasharray: 3.7,1.6; stroke-dashoffset: 0; stroke: #2ca02c; stroke-opacity: 0.25"/>
    <path d="M 413.56 385.04 
L 414.19 382.16 
L 414.84 379.22 
L 415.50 376.23 
L 416.18 373.18 
L 416.87 370.07 
L 417.58 366.90 
L 418.31 363.66 
L 419.05 360.34 
L 419.82 356.96 
L 420.60 353.50 
L 421.40 349.96 
L 422.22 346.34 
L 423.06 342.63 
L 423.93 338.83 
L 424.81 334.94 
L 425.73 330.94 
L 426.67 326.84 
L 427.63 322.62 
L 428.62 318.29 
L 429.65 313.83 
L 430.70 309.24 
L 431.78 304.51 
L 432.90 299.63 
L 434.06 294.60 
L 435.25 289.39 
L 436.48 284.00 
L 437.75 278.41 
L 439.06 272.61 
L 440.42 266.59 
L 441.82 260.33 
L 443.27 253.80 
L 444.78 246.98 
L 446.34 239.84 
L 447.95 232.36 
L 449.62 224.50 
L 451.34 216.22 
L 453.12 207.47 
L 454.95 198.20 
L 456.83 188.33 
L 458.74 177.78 
L 460.68 166.47 
L 462.60 154.26 
L 464.45 141.00 
L 466 127.92 
M 466 48.21 
L 460.37 21.80 
" clip-path="url(#p07b7da3071)" style="fill: none; stroke-dasharray: 3.7,1.6; stroke-dashoffset: 0; stroke: #2ca02c; stroke-opacity: 0.25"/>
    <path d="M 435.41 385.04 
L 436.13 382.16 
L 436.88 379.22 
L 437.64 376.23 
L 438.42 373.18 
L 439.23 370.07 
L 440.05 366.90 
L 440.89 363.66 
L 441.75 360.34 
L 442.64 356.96 
L 443.55 353.50 
L 444.49 349.96 
L 445.45 346.34 
L 446.44 342.63 
L 447.46 338.83 
L 448.50 334.94 
L 449.58 330.94 
L 450.70 326.84 
L 451.85 322.62 
L 453.04 318.29 
L 454.26 313.83 
L 455.53 309.24 
L 456.84 304.51 
L 458.20 299.63 
L 459.61 294.60 
L 461.07 289.39 
L 462.59 284.00 
L 464.17 278.41 
L 465.82 272.61 
L 466 271.99 
" clip-path="url(#p07b7da3071)" style="fill: none; stroke-dasharray: 3.7,1.6; stroke-dashoffset: 0; stroke: #2ca02c; stroke-opacity: 0.25"/>
    <path d="M 457.32 385.04 
L 458.12 382.16 
L 458.93 379.22 
L 459.77 376.23 
L 460.63 373.18 
L 461.51 370.07 
L 462.41 366.90 
L 463.33 363.66 
L 464.28 360.34 
L 465.26 356.96 
L 466 354.43 
" clip-path="url(#p07b7da3071)" style="fill: none; stroke-dasharray: 3.7,1.6; stroke-dashoffset: 0; stroke: #2ca02c; stroke-opacity: 0.25"/>
   </g>
   <g id="LineCollection_5">
    <path d="M 49.23 385.04 
L 51.28 382.22 
L 53.37 379.35 
L 55.50 376.43 
L 57.67 373.45 
L 59.88 370.41 
L 62.15 367.32 
L 64.46 364.15 
L 66.82 360.93 
L 69.23 357.63 
L 71.70 354.26 
L 74.22 350.82 
L 76.81 347.30 
L 79.45 343.69 
L 82.16 340.00 
L 84.94 336.22 
L 87.79 332.35 
L 90.72 328.37 
L 93.73 324.29 
L 96.82 320.10 
L 100.00 315.79 
L 103.28 311.36 
L 106.65 306.80 
L 110.13 302.10 
L 113.73 297.25 
L 117.44 292.24 
L 121.28 287.07 
L 125.26 281.72 
L 129.39 276.17 
L 133.68 270.42 
" clip-path="url(#p07b7da3071)" style="fill: none; stroke-dasharray: 1,1.65; stroke-dashoffset: 0; stroke: #1e90ff"/>
    <path d="M 79.37 385.04 
L 81.36 382.22 
L 83.40 379.35 
L 85.47 376.43 
L 87.59 373.45 
L 89.75 370.41 
L 91.96 367.32 
L 94.21 364.15 
L 96.51 360.93 
L 98.86 357.63 
L 101.27 354.26 
L 103.73 350.82 
L 106.25 347.30 
L 108.83 343.69 
L 111.48 340.00 
L 114.19 336.22 
L 116.97 332.35 
L 119.83 328.37 
L 122.76 324.29 
L 125.78 320.10 
L 128.89 315.79 
L 132.08 311.36 
L 135.38 306.80 
L 138.78 302.10 
L 142.29 297.25 
L 145.92 292.24 
L 149.67 287.07 
L 153.56 281.72 
L 157.60 276.17 
L 161.79 270.42 
" clip-path="url(#p07b7da3071)" style="fill: none; stroke-dasharray: 1,1.65; stroke-dashoffset: 0; stroke: #1e90ff"/>
    <path d="M 111.60 385.04 
L 113.54 382.22 
L 115.51 379.35 
L 117.53 376.43 
L 119.58 373.45 
L 121.68 370.41 
L 123.83 367.32 
L 126.01 364.15 
L 128.25 360.93 
L 130.54 357.63 
L 132.88 354.26 
L 135.27 350.82 
L 137.72 347.30 
L 140.23 343.69 
L 142.80 340.00 
L 145.44 336.22 
L 148.14 332.35 
L 150.92 328.37 
L 153.78 324.29 
L 156.71 320.10 
L 159.74 315.79 
L 162.85 311.36 
L 166.06 306.80 
L 169.37 302.10 
L 172.78 297.25 
L 176.32 292.24 
L 179.97 287.07 
L 183.76 281.72 
L 187.69 276.17 
L 191.78 270.42 
" clip-path="url(#p07b7da3071)" style="fill: none; stroke-dasharray: 1,1.65; stroke-dashoffset: 0; stroke: #1e90ff"/>
    <path d="M 131.51 385.04 
L 133.41 382.22 
L 135.35 379.35 
L 137.33 376.43 
L 139.34 373.45 
L 141.40 370.41 
L 143.51 367.32 
L 145.65 364.15 
L 147.85 360.93 
L 150.09 357.63 
L 152.39 354.26 
L 154.74 350.82 
L 157.14 347.30 
L 159.61 343.69 
L 162.13 340.00 
L 164.72 336.22 
L 167.38 332.35 
L 170.11 328.37 
L 172.92 324.29 
L 175.80 320.10 
L 178.77 315.79 
L 181.83 311.36 
L 184.98 306.80 
L 188.23 302.10 
L 191.59 297.25 
L 195.07 292.24 
L 198.66 287.07 
L 202.39 281.72 
L 206.25 276.17 
L 210.27 270.42 
" clip-path="url(#p07b7da3071)" style="fill: none; stroke-dasharray: 1,1.65; stroke-dashoffset: 0; stroke: #1e90ff"/>
    <path d="M 157.79 385.04 
L 159.64 382.22 
L 161.53 379.35 
L 163.46 376.43 
L 165.42 373.45 
L 167.43 370.41 
L 169.48 367.32 
L 171.57 364.15 
L 173.71 360.93 
L 175.90 357.63 
L 178.14 354.26 
L 180.43 350.82 
L 182.77 347.30 
L 185.17 343.69 
L 187.64 340.00 
L 190.16 336.22 
L 192.76 332.35 
L 195.42 328.37 
L 198.16 324.29 
L 200.97 320.10 
L 203.87 315.79 
L 206.85 311.36 
L 209.93 306.80 
L 213.11 302.10 
L 216.39 297.25 
L 219.78 292.24 
L 223.29 287.07 
L 226.93 281.72 
L 230.71 276.17 
L 234.63 270.42 
" clip-path="url(#p07b7da3071)" style="fill: none; stroke-dasharray: 1,1.65; stroke-dashoffset: 0; stroke: #1e90ff"/>
    <path d="M 179.67 385.04 
L 181.48 382.22 
L 183.32 379.35 
L 185.21 376.43 
L 187.13 373.45 
L 189.09 370.41 
L 191.09 367.32 
L 193.14 364.15 
L 195.23 360.93 
L 197.37 357.63 
L 199.55 354.26 
L 201.79 350.82 
L 204.09 347.30 
L 206.44 343.69 
L 208.85 340.00 
L 211.32 336.22 
L 213.86 332.35 
L 216.46 328.37 
L 219.14 324.29 
L 221.90 320.10 
L 224.73 315.79 
L 227.66 311.36 
L 230.67 306.80 
L 233.78 302.10 
L 237.00 297.25 
L 240.32 292.24 
L 243.76 287.07 
L 247.33 281.72 
L 251.03 276.17 
L 254.87 270.42 
" clip-path="url(#p07b7da3071)" style="fill: none; stroke-dasharray: 1,1.65; stroke-dashoffset: 0; stroke: #1e90ff"/>
    <path d="M 195.76 385.04 
L 197.54 382.22 
L 199.35 379.35 
L 201.20 376.43 
L 203.09 373.45 
L 205.02 370.41 
L 206.99 367.32 
L 209.00 364.15 
L 211.05 360.93 
L 213.16 357.63 
L 215.31 354.26 
L 217.51 350.82 
L 219.76 347.30 
L 222.08 343.69 
L 224.45 340.00 
L 226.88 336.22 
L 229.37 332.35 
L 231.94 328.37 
L 234.57 324.29 
L 237.28 320.10 
L 240.07 315.79 
L 242.95 311.36 
L 245.92 306.80 
L 248.98 302.10 
L 252.14 297.25 
L 255.41 292.24 
L 258.80 287.07 
L 262.31 281.72 
L 265.96 276.17 
L 269.75 270.42 
" clip-path="url(#p07b7da3071)" style="fill: none; stroke-dasharray: 1,1.65; stroke-dashoffset: 0; stroke: #1e90ff"/>
    <path d="M 219.30 385.04 
L 221.03 382.22 
L 222.79 379.35 
L 224.60 376.43 
L 226.43 373.45 
L 228.31 370.41 
L 230.23 367.32 
L 232.19 364.15 
L 234.19 360.93 
L 236.24 357.63 
L 238.33 354.26 
L 240.48 350.82 
L 242.68 347.30 
L 244.93 343.69 
L 247.24 340.00 
L 249.61 336.22 
L 252.04 332.35 
L 254.54 328.37 
L 257.11 324.29 
L 259.76 320.10 
L 262.48 315.79 
L 265.29 311.36 
L 268.19 306.80 
L 271.17 302.10 
L 274.26 297.25 
L 277.46 292.24 
L 280.77 287.07 
L 284.20 281.72 
L 287.76 276.17 
L 291.46 270.42 
" clip-path="url(#p07b7da3071)" style="fill: none; stroke-dasharray: 1,1.65; stroke-dashoffset: 0; stroke: #1e90ff"/>
    <path d="M 236.62 385.04 
L 238.32 382.22 
L 240.05 379.35 
L 241.81 376.43 
L 243.61 373.45 
L 245.45 370.41 
L 247.33 367.32 
L 249.25 364.15 
L 251.21 360.93 
L 253.22 357.63 
L 255.27 354.26 
L 257.38 350.82 
L 259.53 347.30 
L 261.74 343.69 
L 264.01 340.00 
L 266.33 336.22 
L 268.72 332.35 
L 271.17 328.37 
L 273.70 324.29 
L 276.29 320.10 
L 278.97 315.79 
L 281.72 311.36 
L 284.56 306.80 
L 287.50 302.10 
L 290.53 297.25 
L 293.67 292.24 
L 296.92 287.07 
L 300.29 281.72 
L 303.78 276.17 
L 307.42 270.42 
" clip-path="url(#p07b7da3071)" style="fill: none; stroke-dasharray: 1,1.65; stroke-dashoffset: 0; stroke: #1e90ff"/>
    <path d="M 261.96 385.04 
L 263.61 382.22 
L 265.28 379.35 
L 266.99 376.43 
L 268.74 373.45 
L 270.52 370.41 
L 272.34 367.32 
L 274.20 364.15 
L 276.10 360.93 
L 278.05 357.63 
L 280.04 354.26 
L 282.08 350.82 
L 284.18 347.30 
L 286.32 343.69 
L 288.52 340.00 
L 290.78 336.22 
L 293.09 332.35 
L 295.48 328.37 
L 297.93 324.29 
L 300.45 320.10 
L 303.05 315.79 
L 305.72 311.36 
L 308.49 306.80 
L 311.34 302.10 
L 314.29 297.25 
L 317.34 292.24 
L 320.50 287.07 
L 323.78 281.72 
L 327.19 276.17 
L 330.73 270.42 
" clip-path="url(#p07b7da3071)" style="fill: none; stroke-dasharray: 1,1.65; stroke-dashoffset: 0; stroke: #1e90ff"/>
    <path d="M 280.61 385.04 
L 282.22 382.22 
L 283.85 379.35 
L 285.52 376.43 
L 287.22 373.45 
L 288.96 370.41 
L 290.74 367.32 
L 292.56 364.15 
L 294.42 360.93 
L 296.32 357.63 
L 298.26 354.26 
L 300.26 350.82 
L 302.30 347.30 
L 304.40 343.69 
L 306.55 340.00 
L 308.75 336.22 
L 311.02 332.35 
L 313.35 328.37 
L 315.74 324.29 
L 318.21 320.10 
L 320.75 315.79 
L 323.37 311.36 
L 326.07 306.80 
L 328.87 302.10 
L 331.75 297.25 
L 334.74 292.24 
L 337.84 287.07 
L 341.05 281.72 
L 344.38 276.17 
L 347.85 270.42 
" clip-path="url(#p07b7da3071)" style="fill: none; stroke-dasharray: 1,1.65; stroke-dashoffset: 0; stroke: #1e90ff"/>
    <path d="M 295.47 385.04 
L 297.04 382.22 
L 298.64 379.35 
L 300.28 376.43 
L 301.95 373.45 
L 303.65 370.41 
L 305.39 367.32 
L 307.18 364.15 
L 309.00 360.93 
L 310.86 357.63 
L 312.77 354.26 
L 314.73 350.82 
L 316.73 347.30 
L 318.79 343.69 
L 320.90 340.00 
L 323.06 336.22 
L 325.29 332.35 
L 327.57 328.37 
L 329.93 324.29 
L 332.35 320.10 
L 334.84 315.79 
L 337.42 311.36 
L 340.07 306.80 
L 342.82 302.10 
L 345.65 297.25 
L 348.59 292.24 
L 351.63 287.07 
L 354.79 281.72 
L 358.07 276.17 
L 361.48 270.42 
" clip-path="url(#p07b7da3071)" style="fill: none; stroke-dasharray: 1,1.65; stroke-dashoffset: 0; stroke: #1e90ff"/>
    <path d="M 313.37 385.04 
L 314.91 382.22 
L 316.47 379.35 
L 318.06 376.43 
L 319.69 373.45 
L 321.35 370.41 
L 323.05 367.32 
L 324.79 364.15 
L 326.57 360.93 
L 328.39 357.63 
L 330.25 354.26 
L 332.16 350.82 
L 334.12 347.30 
L 336.13 343.69 
L 338.19 340.00 
L 340.30 336.22 
L 342.48 332.35 
L 344.71 328.37 
L 347.01 324.29 
L 349.38 320.10 
L 351.82 315.79 
L 354.33 311.36 
L 356.93 306.80 
L 359.61 302.10 
L 362.39 297.25 
L 365.26 292.24 
L 368.24 287.07 
L 371.33 281.72 
L 374.54 276.17 
L 377.88 270.42 
" clip-path="url(#p07b7da3071)" style="fill: none; stroke-dasharray: 1,1.65; stroke-dashoffset: 0; stroke: #1e90ff"/>
    <path d="M 327.88 385.04 
L 329.38 382.22 
L 330.91 379.35 
L 332.47 376.43 
L 334.06 373.45 
L 335.69 370.41 
L 337.36 367.32 
L 339.06 364.15 
L 340.80 360.93 
L 342.58 357.63 
L 344.41 354.26 
L 346.28 350.82 
L 348.20 347.30 
L 350.17 343.69 
L 352.19 340.00 
L 354.26 336.22 
L 356.39 332.35 
L 358.58 328.37 
L 360.84 324.29 
L 363.16 320.10 
L 365.56 315.79 
L 368.02 311.36 
L 370.57 306.80 
L 373.21 302.10 
L 375.93 297.25 
L 378.75 292.24 
L 381.68 287.07 
L 384.71 281.72 
L 387.87 276.17 
L 391.15 270.42 
" clip-path="url(#p07b7da3071)" style="fill: none; stroke-dasharray: 1,1.65; stroke-dashoffset: 0; stroke: #1e90ff"/>
    <path d="M 343.79 385.04 
L 345.25 382.22 
L 346.74 379.35 
L 348.27 376.43 
L 349.82 373.45 
L 351.41 370.41 
L 353.04 367.32 
L 354.70 364.15 
L 356.41 360.93 
L 358.15 357.63 
L 359.93 354.26 
L 361.76 350.82 
L 363.64 347.30 
L 365.56 343.69 
L 367.54 340.00 
L 369.56 336.22 
L 371.65 332.35 
L 373.79 328.37 
L 376.00 324.29 
L 378.27 320.10 
L 380.62 315.79 
L 383.03 311.36 
L 385.53 306.80 
L 388.11 302.10 
L 390.77 297.25 
L 393.54 292.24 
L 396.40 287.07 
L 399.38 281.72 
L 402.47 276.17 
L 405.69 270.42 
" clip-path="url(#p07b7da3071)" style="fill: none; stroke-dasharray: 1,1.65; stroke-dashoffset: 0; stroke: #1e90ff"/>
    <path d="M 360.02 385.04 
L 361.45 382.22 
L 362.90 379.35 
L 364.39 376.43 
L 365.90 373.45 
L 367.45 370.41 
L 369.04 367.32 
L 370.66 364.15 
L 372.32 360.93 
L 374.02 357.63 
L 375.77 354.26 
L 377.55 350.82 
L 379.38 347.30 
L 381.26 343.69 
L 383.19 340.00 
L 385.17 336.22 
L 387.21 332.35 
L 389.30 328.37 
L 391.46 324.29 
L 393.68 320.10 
L 395.97 315.79 
L 398.33 311.36 
L 400.77 306.80 
L 403.29 302.10 
L 405.90 297.25 
L 408.61 292.24 
L 411.41 287.07 
L 414.32 281.72 
L 417.35 276.17 
L 420.50 270.42 
" clip-path="url(#p07b7da3071)" style="fill: none; stroke-dasharray: 1,1.65; stroke-dashoffset: 0; stroke: #1e90ff"/>
    <path d="M 373.51 385.04 
L 374.90 382.22 
L 376.33 379.35 
L 377.78 376.43 
L 379.26 373.45 
L 380.78 370.41 
L 382.33 367.32 
L 383.92 364.15 
L 385.55 360.93 
L 387.21 357.63 
L 388.92 354.26 
L 390.67 350.82 
L 392.46 347.30 
L 394.30 343.69 
L 396.19 340.00 
L 398.13 336.22 
L 400.13 332.35 
L 402.18 328.37 
L 404.29 324.29 
L 406.47 320.10 
L 408.72 315.79 
L 411.04 311.36 
L 413.43 306.80 
L 415.91 302.10 
L 418.47 297.25 
L 421.12 292.24 
L 423.87 287.07 
L 426.73 281.72 
L 429.70 276.17 
L 432.80 270.42 
" clip-path="url(#p07b7da3071)" style="fill: none; stroke-dasharray: 1,1.65; stroke-dashoffset: 0; stroke: #1e90ff"/>
    <path d="M 387.19 385.04 
L 388.55 382.22 
L 389.94 379.35 
L 391.36 376.43 
L 392.81 373.45 
L 394.29 370.41 
L 395.81 367.32 
L 397.36 364.15 
L 398.95 360.93 
L 400.58 357.63 
L 402.25 354.26 
L 403.96 350.82 
L 405.72 347.30 
L 407.52 343.69 
L 409.37 340.00 
L 411.27 336.22 
L 413.22 332.35 
L 415.23 328.37 
L 417.30 324.29 
L 419.44 320.10 
L 421.64 315.79 
L 423.91 311.36 
L 426.26 306.80 
L 428.68 302.10 
L 431.19 297.25 
L 433.80 292.24 
L 436.50 287.07 
L 439.30 281.72 
L 442.22 276.17 
L 445.26 270.42 
" clip-path="url(#p07b7da3071)" style="fill: none; stroke-dasharray: 1,1.65; stroke-dashoffset: 0; stroke: #1e90ff"/>
    <path d="M 398.88 385.04 
L 400.22 382.22 
L 401.58 379.35 
L 402.97 376.43 
L 404.39 373.45 
L 405.85 370.41 
L 407.34 367.32 
L 408.86 364.15 
L 410.42 360.93 
L 412.01 357.63 
L 413.65 354.26 
L 415.33 350.82 
L 417.05 347.30 
L 418.82 343.69 
L 420.63 340.00 
L 422.50 336.22 
L 424.42 332.35 
L 426.39 328.37 
L 428.42 324.29 
L 430.52 320.10 
L 432.68 315.79 
L 434.91 311.36 
L 437.22 306.80 
L 439.60 302.10 
L 442.07 297.25 
L 444.63 292.24 
L 447.29 287.07 
L 450.04 281.72 
L 452.91 276.17 
L 455.90 270.42 
" clip-path="url(#p07b7da3071)" style="fill: none; stroke-dasharray: 1,1.65; stroke-dashoffset: 0; stroke: #1e90ff"/>
   </g>
   <g id="matplotlib.axis_1">
    <g id="xtick_1">
     <g id="line2d_1">
      <defs>
       <path id="m1504cfccaf" d="M 0 0 
L 0 3.5 
" style="stroke: #000000; stroke-width: 0.8"/>
      </defs>
      <g>
       <use href="#m1504cfccaf" x="54.3" y="385.5" style="stroke: #000000; stroke-width: 0.8"/>
      </g>
     </g>
     <g id="text_1">
      <text style="font-size: 10px; font-family: 'DejaVu Sans', 'Liberation Sans', sans-serif; text-anchor: middle" x="54.3" y="400.69" transform="translate(54.300 400.690) rotate(-0) scale(0.9570 1.0750) translate(-54.300 -400.690)">−40</text>
     </g>
    </g>
    <g id="xtick_2">
     <g id="line2d_2">
      <g>
       <use href="#m1504cfccaf" x="98.7" y="385.5" style="stroke: #000000; stroke-width: 0.8"/>
      </g>
     </g>
     <g id="text_2">
      <text style="font-size: 10px; font-family: 'DejaVu Sans', 'Liberation Sans', sans-serif; text-anchor: middle" x="98.7" y="400.69" transform="translate(98.700 400.690) rotate(-0) scale(0.9570 1.0750) translate(-98.700 -400.690)">−30</text>
     </g>
    </g>
    <g id="xtick_3">
     <g id="line2d_3">
      <g>
       <use href="#m1504cfccaf" x="143.1" y="385.5" style="stroke: #000000; stroke-width: 0.8"/>
      </g>
     </g>
     <g id="text_3">
      <text style="font-size: 10px; font-family: 'DejaVu Sans', 'Liberation Sans', sans-serif; text-anchor: middle" x="143.1" y="400.69" transform="translate(143.100 400.690) rotate(-0) scale(0.9570 1.0750) translate(-143.100 -400.690)">−20</text>
     </g>
    </g>
    <g id="xtick_4">
     <g id="line2d_4">
      <g>
       <use href="#m1504cfccaf" x="186.9" y="385.5" style="stroke: #000000; stroke-width: 0.8"/>
      </g>
     </g>
     <g id="text_4">
      <text style="font-size: 10px; font-family: 'DejaVu Sans', 'Liberation Sans', sans-serif; text-anchor: middle" x="186.9" y="400.69" transform="translate(186.900 400.690) rotate(-0) scale(0.9570 1.0750) translate(-186.900 -400.690)">−10</text>
     </g>
    </g>
    <g id="xtick_5">
     <g id="line2d_5">
      <g>
       <use href="#m1504cfccaf" x="231.3" y="385.5" style="stroke: #000000; stroke-width: 0.8"/>
      </g>
     </g>
     <g id="text_5">
      <text style="font-size: 10px; font-family: 'DejaVu Sans', 'Liberation Sans', sans-serif; text-anchor: middle" x="231.3" y="400.69" transform="translate(231.300 400.690) rotate(-0) scale(0.9570 1.0750) translate(-231.300 -400.690)">0</text>
     </g>
    </g>
    <g id="xtick_6">
     <g id="line2d_6">
      <g>
       <use href="#m1504cfccaf" x="275.7" y="385.5" style="stroke: #000000; stroke-width: 0.8"/>
      </g>
     </g>
     <g id="text_6">
      <text style="font-size: 10px; font-family: 'DejaVu Sans', 'Liberation Sans', sans-serif; text-anchor: middle" x="275.7" y="400.69" transform="translate(275.700 400.690) rotate(-0) scale(0.9570 1.0750) translate(-275.700 -400.690)">10</text>
     </g>
    </g>
    <g id="xtick_7">
     <g id="line2d_7">
      <g>
       <use href="#m1504cfccaf" x="319.5" y="385.5" style="stroke: #000000; stroke-width: 0.8"/>
      </g>
     </g>
     <g id="text_7">
      <text style="font-size: 10px; font-family: 'DejaVu Sans', 'Liberation Sans', sans-serif; text-anchor: middle" x="319.5" y="400.69" transform="translate(319.500 400.690) rotate(-0) scale(0.9570 1.0750) translate(-319.500 -400.690)">20</text>
     </g>
    </g>
    <g id="xtick_8">
     <g id="line2d_8">
      <g>
       <use href="#m1504cfccaf" x="363.9" y="385.5" style="stroke: #000000; stroke-width: 0.8"/>
      </g>
     </g>
     <g id="text_8">
      <text style="font-size: 10px; font-family: 'DejaVu Sans', 'Liberation Sans', sans-serif; text-anchor: middle" x="363.9" y="400.69" transform="translate(363.900 400.690) rotate(-0) scale(0.9570 1.0750) translate(-363.900 -400.690)">30</text>
     </g>
    </g>
    <g id="xtick_9">
     <g id="line2d_9">
      <g>
       <use href="#m1504cfccaf" x="407.7" y="385.5" style="stroke: #000000; stroke-width: 0.8"/>
      </g>
     </g>
     <g id="text_9">
      <text style="font-size: 10px; font-family: 'DejaVu Sans', 'Liberation Sans', sans-serif; text-anchor: middle" x="407.7" y="400.69" transform="translate(407.700 400.690) rotate(-0) scale(0.9570 1.0750) translate(-407.700 -400.690)">40</text>
     </g>
    </g>
    <g id="xtick_10">
     <g id="line2d_10">
      <g>
       <use href="#m1504cfccaf" x="452.1" y="385.5" style="stroke: #000000; stroke-width: 0.8"/>
      </g>
     </g>
     <g id="text_10">
      <text style="font-size: 10px; font-family: 'DejaVu Sans', 'Liberation Sans', sans-serif; text-anchor: middle" x="452.1" y="400.69" transform="translate(452.100 400.690) rotate(-0) scale(0.9570 1.0750) translate(-452.100 -400.690)">50</text>
     </g>
    </g>
    <g id="text_11">
     <text style="font-size: 10px; font-family: 'DejaVu Sans', 'Liberation Sans', sans-serif; text-anchor: middle" x="253.2" y="415.17" transform="translate(253.200 415.590) rotate(-0) scale(0.9930 1.0600) translate(-253.200 -415.170)">Temperature (°C)</text>
    </g>
   </g>
   <g id="matplotlib.axis_2">
    <g id="ytick_1">
     <g id="line2d_11">
      <defs>
       <path id="m5d545ce8f8" d="M 0 0 
L -3.5 0 
" style="stroke: #000000; stroke-width: 0.8"/>
      </defs>
      <g>
       <use href="#m5d545ce8f8" x="54.3" y="21.9" style="stroke: #000000; stroke-width: 0.8"/>
      </g>
     </g>
     <g id="text_12">
      <text style="font-size: 10px; font-family: 'DejaVu Sans', 'Liberation Sans', sans-serif; text-anchor: end" x="47.3" y="25.69" transform="translate(47.300 25.690) rotate(-0) scale(0.9570 1.0750) translate(-47.300 -25.690)">100</text>
     </g>
    </g>
    <g id="ytick_2">
     <g id="line2d_12">
      <g>
       <use href="#m5d545ce8f8" x="54.3" y="129.3" style="stroke: #000000; stroke-width: 0.8"/>
      </g>
     </g>
     <g id="text_13">
      <text style="font-size: 10px; font-family: 'DejaVu Sans', 'Liberation Sans', sans-serif; text-anchor: end" x="47.3" y="133.09" transform="translate(47.300 133.090) rotate(-0) scale(0.9570 1.0750) translate(-47.300 -133.090)">200</text>
     </g>
    </g>
    <g id="ytick_3">
     <g id="line2d_13">
      <g>
       <use href="#m5d545ce8f8" x="54.3" y="191.7" style="stroke: #000000; stroke-width: 0.8"/>
      </g>
     </g>
     <g id="text_14">
      <text style="font-size: 10px; font-family: 'DejaVu Sans', 'Liberation Sans', sans-serif; text-anchor: end" x="47.3" y="195.49" transform="translate(47.300 195.490) rotate(-0) scale(0.9570 1.0750) translate(-47.300 -195.490)">300</text>
     </g>
    </g>
    <g id="ytick_4">
     <g id="line2d_14">
      <g>
       <use href="#m5d545ce8f8" x="54.3" y="236.1" style="stroke: #000000; stroke-width: 0.8"/>
      </g>
     </g>
     <g id="text_15">
      <text style="font-size: 10px; font-family: 'DejaVu Sans', 'Liberation Sans', sans-serif; text-anchor: end" x="47.3" y="239.89" transform="translate(47.300 239.890) rotate(-0) scale(0.9570 1.0750) translate(-47.300 -239.890)">400</text>
     </g>
    </g>
    <g id="ytick_5">
     <g id="line2d_15">
      <g>
       <use href="#m5d545ce8f8" x="54.3" y="270.9" style="stroke: #000000; stroke-width: 0.8"/>
      </g>
     </g>
     <g id="text_16">
      <text style="font-size: 10px; font-family: 'DejaVu Sans', 'Liberation Sans', sans-serif; text-anchor: end" x="47.3" y="274.69" transform="translate(47.300 274.690) rotate(-0) scale(0.9570 1.0750) translate(-47.300 -274.690)">500</text>
     </g>
    </g>
    <g id="ytick_6">
     <g id="line2d_16">
      <g>
       <use href="#m5d545ce8f8" x="54.3" y="299.1" style="stroke: #000000; stroke-width: 0.8"/>
      </g>
     </g>
     <g id="text_17">
      <text style="font-size: 10px; font-family: 'DejaVu Sans', 'Liberation Sans', sans-serif; text-anchor: end" x="47.3" y="302.89" transform="translate(47.300 302.890) rotate(-0) scale(0.9570 1.0750) translate(-47.300 -302.890)">600</text>
     </g>
    </g>
    <g id="ytick_7">
     <g id="line2d_17">
      <g>
       <use href="#m5d545ce8f8" x="54.3" y="322.5" style="stroke: #000000; stroke-width: 0.8"/>
      </g>
     </g>
     <g id="text_18">
      <text style="font-size: 10px; font-family: 'DejaVu Sans', 'Liberation Sans', sans-serif; text-anchor: end" x="47.3" y="326.29" transform="translate(47.300 326.290) rotate(-0) scale(0.9570 1.0750) translate(-47.300 -326.290)">700</text>
     </g>
    </g>
    <g id="ytick_8">
     <g id="line2d_18">
      <g>
       <use href="#m5d545ce8f8" x="54.3" y="343.5" style="stroke: #000000; stroke-width: 0.8"/>
      </g>
     </g>
     <g id="text_19">
      <text style="font-size: 10px; font-family: 'DejaVu Sans', 'Liberation Sans', sans-serif; text-anchor: end" x="47.3" y="347.29" transform="translate(47.300 347.290) rotate(-0) scale(0.9570 1.0750) translate(-47.300 -347.290)">800</text>
     </g>
    </g>
    <g id="ytick_9">
     <g id="line2d_19">
      <g>
       <use href="#m5d545ce8f8" x="54.3" y="361.5" style="stroke: #000000; stroke-width: 0.8"/>
      </g>
     </g>
     <g id="text_20">
      <text style="font-size: 10px; font-family: 'DejaVu Sans', 'Liberation Sans', sans-serif; text-anchor: end" x="47.3" y="365.29" transform="translate(47.300 365.290) rotate(-0) scale(0.9570 1.0750) translate(-47.300 -365.290)">900</text>
     </g>
    </g>
    <g id="ytick_10">
     <g id="line2d_20">
      <g>
       <use href="#m5d545ce8f8" x="54.3" y="377.7" style="stroke: #000000; stroke-width: 0.8"/>
      </g>
     </g>
     <g id="text_21">
      <text style="font-size: 10px; font-family: 'DejaVu Sans', 'Liberation Sans', sans-serif; text-anchor: end" x="47.3" y="381.49" transform="translate(47.300 381.490) rotate(-0) scale(0.9570 1.0750) translate(-47.300 -381.490)">1000</text>
     </g>
    </g>
    <g id="text_22">
     <text style="font-size: 10px; font-family: 'DejaVu Sans', 'Liberation Sans', sans-serif; text-anchor: middle" x="14.87" y="203.7" transform="translate(14.870 203.910) rotate(-90) scale(1.0060 1.0500) translate(-14.870 -203.700)">Pressure (hPa)</text>
    </g>
   </g>
   <g id="line2d_21">
    <path d="M 249.36 21.96 
L 245.35 25.60 
L 242.85 28.20 
L 237.31 34.55 
L 236.31 36.04 
L 235.58 37.69 
L 233.50 43.33 
L 233.28 45.13 
L 233.33 46.95 
L 233.66 48.73 
L 234.06 49.86 
L 235.19 51.98 
L 235.97 53.61 
L 236.49 55.34 
L 236.82 57.12 
L 236.99 59.52 
L 236.91 61.92 
L 236.53 64.91 
L 234.95 74.40 
L 234.66 78.60 
L 234.59 82.82 
L 234.70 86.44 
L 234.99 89.44 
L 235.41 91.80 
L 236.01 94.12 
L 237.18 97.54 
L 239.59 103.75 
L 240.85 106.48 
L 242.01 108.57 
L 243.35 110.55 
L 248.35 117.35 
L 249.50 119.47 
L 250.43 121.70 
L 250.95 123.43 
L 251.30 125.21 
L 251.49 127.00 
L 251.49 129.41 
L 251.27 134.82 
L 251.51 137.21 
L 252.10 140.16 
L 252.94 143.05 
L 253.81 145.30 
L 254.86 147.47 
L 256.11 149.52 
L 258.23 152.44 
L 266.21 163.02 
L 267.39 165.12 
L 268.05 166.79 
L 268.47 168.52 
L 268.90 171.51 
L 269.41 174.50 
L 269.93 176.23 
L 270.72 177.84 
L 271.74 179.31 
L 277.41 186.37 
L 281.89 191.24 
L 287.14 197.81 
L 289.29 199.91 
L 297.24 207.26 
L 303.61 213.67 
L 307.09 217.01 
L 308.67 218.80 
L 310.08 220.74 
L 315.51 228.70 
L 322.39 237.82 
L 324.33 240.87 
L 325.77 243.51 
L 326.99 246.26 
L 327.96 249.11 
L 328.72 252.02 
L 329.43 255.57 
L 329.85 258.54 
L 330.05 261.55 
L 330.29 268.17 
L 330.68 270.53 
L 331.36 272.84 
L 332.28 275.08 
L 333.39 277.23 
L 334.69 279.27 
L 336.15 281.18 
L 337.77 282.94 
L 342.86 288.10 
L 343.96 289.54 
L 344.89 291.09 
L 345.59 292.75 
L 346.04 294.51 
L 346.25 296.32 
L 346.24 298.15 
L 346.02 299.95 
L 345.61 301.72 
L 345.02 303.43 
L 344.01 305.61 
L 342.78 307.68 
L 341.37 309.64 
L 339.42 311.97 
L 337.10 314.75 
L 336.12 316.26 
L 335.37 317.92 
L 335.03 319.10 
L 334.85 320.32 
L 334.84 321.54 
L 335.03 322.73 
L 335.64 324.46 
L 337.29 328.35 
L 337.47 329.49 
L 337.43 330.65 
L 337.11 332.42 
L 336.31 336.04 
L 336.22 337.85 
L 336.35 339.66 
L 336.81 342.04 
L 337.50 344.37 
L 338.39 346.62 
L 339.52 348.73 
L 340.88 350.69 
L 343.00 353.61 
L 343.92 355.21 
L 344.60 356.92 
L 344.87 358.09 
L 344.94 359.27 
L 344.81 360.43 
L 344.37 362.19 
L 343.49 365.22 
L 343.47 366.37 
L 343.85 367.42 
L 344.59 368.36 
L 346.03 369.65 
L 352.12 374.57 
L 355.15 376.51 
L 357.24 377.76 
L 357.24 377.76 
" clip-path="url(#p07b7da3071)" style="fill: none; stroke: #ff0000; stroke-width: 1.5; stroke-linecap: square"/>
   </g>
   <g id="line2d_22">
    <path d="M 235.86 21.96 
L 235.25 26.12 
L 234.33 30.83 
L 234.30 32.63 
L 234.31 36.24 
L 234.05 38.63 
L 233.41 42.17 
L 232.81 44.52 
L 232.36 45.63 
L 231.75 46.65 
L 230.62 48.07 
L 225.78 53.42 
L 224.23 55.25 
L 221.44 59.16 
L 220.12 61.17 
L 219.32 62.79 
L 218.98 63.95 
L 218.85 65.16 
L 218.97 66.37 
L 219.37 67.49 
L 220.00 68.50 
L 224.31 74.32 
L 225.94 76.84 
L 226.71 78.48 
L 227.22 80.22 
L 227.35 81.41 
L 227.24 83.21 
L 226.70 86.19 
L 225.94 89.10 
L 225.12 91.35 
L 224.10 93.51 
L 221.11 99.42 
L 220.31 101.70 
L 219.92 103.47 
L 219.72 105.26 
L 219.75 107.07 
L 220.17 113.65 
L 219.95 115.41 
L 219.31 118.34 
L 218.54 121.90 
L 218.33 123.73 
L 218.33 125.56 
L 218.59 127.35 
L 218.95 128.49 
L 219.46 129.58 
L 220.46 131.09 
L 221.64 132.46 
L 223.81 134.53 
L 228.22 138.62 
L 229.41 139.98 
L 230.38 141.49 
L 231.11 143.14 
L 231.59 144.90 
L 231.64 146.07 
L 231.42 147.21 
L 230.97 148.32 
L 229.98 149.91 
L 228.36 151.91 
L 226.38 154.31 
L 225.45 155.82 
L 225.02 156.91 
L 224.77 158.08 
L 224.73 159.31 
L 224.91 160.53 
L 225.31 161.66 
L 225.93 162.65 
L 226.74 163.52 
L 228.21 164.62 
L 230.39 165.89 
L 235.75 168.74 
L 238.97 170.20 
L 245.06 172.73 
L 246.66 173.63 
L 248.18 174.72 
L 249.53 176.00 
L 250.28 176.95 
L 250.88 177.98 
L 251.31 179.08 
L 251.55 180.26 
L 251.62 182.08 
L 251.43 183.91 
L 251.14 185.08 
L 250.70 186.18 
L 250.10 187.20 
L 248.97 188.60 
L 245.34 192.73 
L 243.99 194.71 
L 243.14 196.28 
L 242.23 198.47 
L 241.55 200.78 
L 240.91 203.79 
L 240.15 207.41 
L 239.61 209.11 
L 238.87 210.67 
L 237.89 212.05 
L 236.70 213.32 
L 234.43 215.32 
L 232.05 217.46 
L 230.72 218.91 
L 230.00 219.95 
L 229.47 221.02 
L 229.21 222.12 
L 229.28 223.24 
L 229.61 224.37 
L 231.20 228.41 
L 231.29 229.58 
L 231.08 230.73 
L 230.61 231.85 
L 229.94 232.92 
L 228.69 234.38 
L 227.30 235.61 
L 225.31 236.98 
L 213.98 243.78 
L 212.34 244.69 
L 211.36 245.40 
L 210.57 246.26 
L 210.03 247.32 
L 209.78 248.53 
L 209.81 249.76 
L 210.15 250.89 
L 210.74 251.89 
L 211.55 252.79 
L 213.02 253.97 
L 215.74 255.67 
L 218.80 257.65 
L 220.16 258.76 
L 221.39 260.03 
L 222.85 261.95 
L 224.67 264.37 
L 225.89 265.68 
L 227.30 266.77 
L 228.85 267.70 
L 236.81 271.99 
L 238.78 273.41 
L 240.12 274.64 
L 240.89 275.57 
L 241.51 276.61 
L 241.94 277.77 
L 242.11 278.98 
L 241.94 280.15 
L 241.42 281.23 
L 240.63 282.19 
L 239.68 283.01 
L 238.11 283.97 
L 236.44 284.66 
L 234.11 285.28 
L 223.48 287.39 
L 216.39 288.61 
L 195.01 291.90 
L 187.29 293.09 
L 183.17 293.95 
L 179.69 294.90 
L 176.86 295.90 
L 175.78 296.44 
L 174.79 297.13 
L 173.92 298.05 
L 173.58 298.58 
L 173.38 299.14 
L 173.34 299.72 
L 173.49 300.29 
L 174.16 301.35 
L 175.08 302.16 
L 176.13 302.74 
L 177.86 303.33 
L 187.80 305.78 
L 193.67 307.03 
L 199.01 307.94 
L 204.97 308.71 
L 213.93 309.64 
L 245.61 312.74 
L 259.92 314.51 
L 274.20 316.47 
L 279.52 317.46 
L 286.56 319.06 
L 298.22 321.91 
L 299.99 322.48 
L 301.08 322.99 
L 302.05 323.64 
L 302.85 324.49 
L 303.82 326.02 
L 305.91 329.85 
L 306.70 330.72 
L 307.67 331.37 
L 313.16 333.91 
L 315.20 335.16 
L 317.12 336.59 
L 324.65 342.57 
L 327.54 344.72 
L 329.31 346.35 
L 330.49 347.73 
L 331.51 349.23 
L 332.34 350.85 
L 333.16 353.13 
L 333.78 354.82 
L 334.31 355.87 
L 335.34 357.31 
L 337.60 360.19 
L 338.49 361.84 
L 338.90 363.02 
L 339.13 364.22 
L 339.14 365.42 
L 338.90 366.61 
L 338.01 369.49 
L 338.02 370.64 
L 338.31 371.80 
L 339.03 374.15 
L 339.17 375.35 
L 339.11 377.15 
L 339.06 377.76 
L 339.06 377.76 
" clip-path="url(#p07b7da3071)" style="fill: none; stroke: #008000; stroke-width: 1.5; stroke-linecap: square"/>
   </g>
   <g id="patch_3">
    <path d="M 54.3 385.5 
L 54.3 21.9 
" style="fill: none; stroke: #000000; stroke-width: 0.8; stroke-linejoin: miter; stroke-linecap: square"/>
   </g>
   <g id="patch_4">
    <path d="M 452.1 385.5 
L 452.1 21.9 
" style="fill: none; stroke: #000000; stroke-width: 0.8; stroke-linejoin: miter; stroke-linecap: square"/>
   </g>
   <g id="patch_5">
    <path d="M 54.3 385.5 
L 452.1 385.5 
" style="fill: none; stroke: #000000; stroke-width: 0.8; stroke-linejoin: miter; stroke-linecap: square"/>
   </g>
   <g id="patch_6">
    <path d="M 54.3 21.9 
L 452.1 21.9 
" style="fill: none; stroke: #000000; stroke-width: 0.8; stroke-linejoin: miter; stroke-linecap: square"/>
   </g>
   <g id="text_23">
    <g clip-path="url(#p07b7da3071)">
     <text style="font-weight: 700; font-size: 7.3px; font-family: 'DejaVu Sans', 'Liberation Sans', sans-serif; fill: #1e90ff" transform="translate(128.79 269.35) rotate(-30)">0.1</text>
    </g>
   </g>
   <g id="text_24">
    <g clip-path="url(#p07b7da3071)">
     <text style="font-weight: 700; font-size: 7.3px; font-family: 'DejaVu Sans', 'Liberation Sans', sans-serif; fill: #1e90ff" transform="translate(156.89 269.35) rotate(-30)">0.2</text>
    </g>
   </g>
   <g id="text_25">
    <g clip-path="url(#p07b7da3071)">
     <text style="font-weight: 700; font-size: 7.3px; font-family: 'DejaVu Sans', 'Liberation Sans', sans-serif; fill: #1e90ff" transform="translate(186.88 269.35) rotate(-30)">0.4</text>
    </g>
   </g>
   <g id="text_26">
    <g clip-path="url(#p07b7da3071)">
     <text style="font-weight: 700; font-size: 7.3px; font-family: 'DejaVu Sans', 'Liberation Sans', sans-serif; fill: #1e90ff" transform="translate(205.37 269.35) rotate(-30)">0.6</text>
    </g>
   </g>
   <g id="text_27">
    <g clip-path="url(#p07b7da3071)">
     <text style="font-weight: 700; font-size: 7.3px; font-family: 'DejaVu Sans', 'Liberation Sans', sans-serif; fill: #1e90ff" transform="translate(233.14 269.35) rotate(-30)">1</text>
    </g>
   </g>
   <g id="text_28">
    <g clip-path="url(#p07b7da3071)">
     <text style="font-weight: 700; font-size: 7.3px; font-family: 'DejaVu Sans', 'Liberation Sans', sans-serif; fill: #1e90ff" transform="translate(249.98 269.35) rotate(-30)">1.5</text>
    </g>
   </g>
   <g id="text_29">
    <g clip-path="url(#p07b7da3071)">
     <text style="font-weight: 700; font-size: 7.3px; font-family: 'DejaVu Sans', 'Liberation Sans', sans-serif; fill: #1e90ff" transform="translate(268.25 269.35) rotate(-30)">2</text>
    </g>
   </g>
   <g id="text_30">
    <g clip-path="url(#p07b7da3071)">
     <text style="font-weight: 700; font-size: 7.3px; font-family: 'DejaVu Sans', 'Liberation Sans', sans-serif; fill: #1e90ff" transform="translate(289.97 269.35) rotate(-30)">3</text>
    </g>
   </g>
   <g id="text_31">
    <g clip-path="url(#p07b7da3071)">
     <text style="font-weight: 700; font-size: 7.3px; font-family: 'DejaVu Sans', 'Liberation Sans', sans-serif; fill: #1e90ff" transform="translate(305.93 269.35) rotate(-30)">4</text>
    </g>
   </g>
   <g id="text_32">
    <g clip-path="url(#p07b7da3071)">
     <text style="font-weight: 700; font-size: 7.3px; font-family: 'DejaVu Sans', 'Liberation Sans', sans-serif; fill: #1e90ff" transform="translate(329.24 269.35) rotate(-30)">6</text>
    </g>
   </g>
   <g id="text_33">
    <g clip-path="url(#p07b7da3071)">
     <text style="font-weight: 700; font-size: 7.3px; font-family: 'DejaVu Sans', 'Liberation Sans', sans-serif; fill: #1e90ff" transform="translate(346.36 269.35) rotate(-30)">8</text>
    </g>
   </g>
   <g id="text_34">
    <g clip-path="url(#p07b7da3071)">
     <text style="font-weight: 700; font-size: 7.3px; font-family: 'DejaVu Sans', 'Liberation Sans', sans-serif; fill: #1e90ff" transform="translate(357.79 269.35) rotate(-30)">10</text>
    </g>
   </g>
   <g id="text_35">
    <g clip-path="url(#p07b7da3071)">
     <text style="font-weight: 700; font-size: 7.3px; font-family: 'DejaVu Sans', 'Liberation Sans', sans-serif; fill: #1e90ff" transform="translate(374.19 269.35) rotate(-30)">13</text>
    </g>
   </g>
   <g id="text_36">
    <g clip-path="url(#p07b7da3071)">
     <text style="font-weight: 700; font-size: 7.3px; font-family: 'DejaVu Sans', 'Liberation Sans', sans-serif; fill: #1e90ff" transform="translate(387.46 269.35) rotate(-30)">16</text>
    </g>
   </g>
   <g id="text_37">
    <g clip-path="url(#p07b7da3071)">
     <text style="font-weight: 700; font-size: 7.3px; font-family: 'DejaVu Sans', 'Liberation Sans', sans-serif; fill: #1e90ff" transform="translate(402.00 269.35) rotate(-30)">20</text>
    </g>
   </g>
   <g id="text_38">
    <g clip-path="url(#p07b7da3071)">
     <text style="font-weight: 700; font-size: 7.3px; font-family: 'DejaVu Sans', 'Liberation Sans', sans-serif; fill: #1e90ff" transform="translate(416.81 269.35) rotate(-30)">25</text>
    </g>
   </g>
   <g id="text_39">
    <g clip-path="url(#p07b7da3071)">
     <text style="font-weight: 700; font-size: 7.3px; font-family: 'DejaVu Sans', 'Liberation Sans', sans-serif; fill: #1e90ff" transform="translate(429.11 269.35) rotate(-30)">30</text>
    </g>
   </g>
   <g id="text_40">
    <g clip-path="url(#p07b7da3071)">
     <text style="font-weight: 700; font-size: 7.3px; font-family: 'DejaVu Sans', 'Liberation Sans', sans-serif; fill: #1e90ff" transform="translate(441.57 269.35) rotate(-30)">36</text>
    </g>
   </g>
   <g id="text_41">
    <g clip-path="url(#p07b7da3071)">
     <text style="font-weight: 700; font-size: 7.3px; font-family: 'DejaVu Sans', 'Liberation Sans', sans-serif; fill: #1e90ff" transform="translate(451.85 269.35) rotate(-30)">42</text>
    </g>
   </g>
   <g id="text_42">
    <g clip-path="url(#p07b7da3071)">
     <text style="font-weight: 700; font-size: 7.5px; font-family: 'DejaVu Sans', 'Liberation Sans', sans-serif; text-anchor: middle; fill: #1f77b4" x="143.91" y="34.05" transform="rotate(-45 143.91 34.05)">-100</text>
    </g>
   </g>
   <g id="text_43">
    <g clip-path="url(#p07b7da3071)">
     <text style="font-weight: 700; font-size: 7.5px; font-family: 'DejaVu Sans', 'Liberation Sans', sans-serif; text-anchor: middle; fill: #1f77b4" x="157.75" y="64.40" transform="rotate(-45 157.75 64.40)">-90</text>
    </g>
   </g>
   <g id="text_44">
    <g clip-path="url(#p07b7da3071)">
     <text style="font-weight: 700; font-size: 7.5px; font-family: 'DejaVu Sans', 'Liberation Sans', sans-serif; text-anchor: middle; fill: #1f77b4" x="173.20" y="93.15" transform="rotate(-45 173.20 93.15)">-80</text>
    </g>
   </g>
   <g id="text_45">
    <g clip-path="url(#p07b7da3071)">
     <text style="font-weight: 700; font-size: 7.5px; font-family: 'DejaVu Sans', 'Liberation Sans', sans-serif; text-anchor: middle; fill: #1f77b4" x="190.10" y="120.44" transform="rotate(-45 190.10 120.44)">-70</text>
    </g>
   </g>
   <g id="text_46">
    <g clip-path="url(#p07b7da3071)">
     <text style="font-weight: 700; font-size: 7.5px; font-family: 'DejaVu Sans', 'Liberation Sans', sans-serif; text-anchor: middle; fill: #1f77b4" x="208.32" y="146.42" transform="rotate(-45 208.32 146.42)">-60</text>
    </g>
   </g>
   <g id="text_47">
    <g clip-path="url(#p07b7da3071)">
     <text style="font-weight: 700; font-size: 7.5px; font-family: 'DejaVu Sans', 'Liberation Sans', sans-serif; text-anchor: middle; fill: #1f77b4" x="227.72" y="171.21" transform="rotate(-45 227.72 171.21)">-50</text>
    </g>
   </g>
   <g id="text_48">
    <g clip-path="url(#p07b7da3071)">
     <text style="font-weight: 700; font-size: 7.5px; font-family: 'DejaVu Sans', 'Liberation Sans', sans-serif; text-anchor: middle; fill: #1f77b4" x="248.21" y="194.91" transform="rotate(-45 248.21 194.91)">-40</text>
    </g>
   </g>
   <g id="text_49">
    <g clip-path="url(#p07b7da3071)">
     <text style="font-weight: 700; font-size: 7.5px; font-family: 'DejaVu Sans', 'Liberation Sans', sans-serif; text-anchor: middle; fill: #1f77b4" x="269.70" y="217.62" transform="rotate(-45 269.70 217.62)">-30</text>
    </g>
   </g>
   <g id="text_50">
    <g clip-path="url(#p07b7da3071)">
     <text style="font-weight: 700; font-size: 7.5px; font-family: 'DejaVu Sans', 'Liberation Sans', sans-serif; text-anchor: middle; fill: #1f77b4" x="292.10" y="239.41" transform="rotate(-45 292.10 239.41)">-20</text>
    </g>
   </g>
   <g id="text_51">
    <g clip-path="url(#p07b7da3071)">
     <text style="font-weight: 700; font-size: 7.5px; font-family: 'DejaVu Sans', 'Liberation Sans', sans-serif; text-anchor: middle; fill: #1f77b4" x="315.35" y="260.35" transform="rotate(-45 315.35 260.35)">-10</text>
    </g>
   </g>
   <g id="text_52">
    <g clip-path="url(#p07b7da3071)">
     <text style="font-weight: 700; font-size: 7.5px; font-family: 'DejaVu Sans', 'Liberation Sans', sans-serif; text-anchor: middle; fill: #808080" x="339.38" y="280.52" transform="rotate(-45 339.38 280.52)">0</text>
    </g>
   </g>
   <g id="text_53">
    <g clip-path="url(#p07b7da3071)">
     <text style="font-weight: 700; font-size: 7.5px; font-family: 'DejaVu Sans', 'Liberation Sans', sans-serif; text-anchor: middle; fill: #d62728" x="364.13" y="299.96" transform="rotate(-45 364.13 299.96)">10</text>
    </g>
   </g>
   <g id="text_54">
    <g clip-path="url(#p07b7da3071)">
     <text style="font-weight: 700; font-size: 7.5px; font-family: 'DejaVu Sans', 'Liberation Sans', sans-serif; text-anchor: middle; fill: #d62728" x="389.56" y="318.72" transform="rotate(-45 389.56 318.72)">20</text>
    </g>
   </g>
   <g id="text_55">
    <g clip-path="url(#p07b7da3071)">
     <text style="font-weight: 700; font-size: 7.5px; font-family: 'DejaVu Sans', 'Liberation Sans', sans-serif; text-anchor: middle; fill: #d62728" x="415.61" y="336.86" transform="rotate(-45 415.61 336.86)">30</text>
    </g>
   </g>
   <g id="text_56">
    <g clip-path="url(#p07b7da3071)">
     <text style="font-weight: 700; font-size: 7.5px; font-family: 'DejaVu Sans', 'Liberation Sans', sans-serif; text-anchor: middle; fill: #d62728" x="442.26" y="354.41" transform="rotate(-45 442.26 354.41)">40</text>
    </g>
   </g>
   <g id="text_57">
    <text style="font-size: 12px; font-family: 'DejaVu Sans', 'Liberation Sans', sans-serif; text-anchor: middle" x="253.2" y="15.9" transform="translate(253.200 16.440) rotate(-0) scale(1.0000 1.0000) translate(-253.200 -15.900)">wetPf2_C2E3.2024.057.17.00.G17</text>
   </g>
  </g>
 </g>
 <defs>
  <clipPath id="p07b7da3071">
   <rect x="54.3" y="21.9" width="397.8" height="363.6"/>
  </clipPath>
 </defs>
</svg>

</body></html>
